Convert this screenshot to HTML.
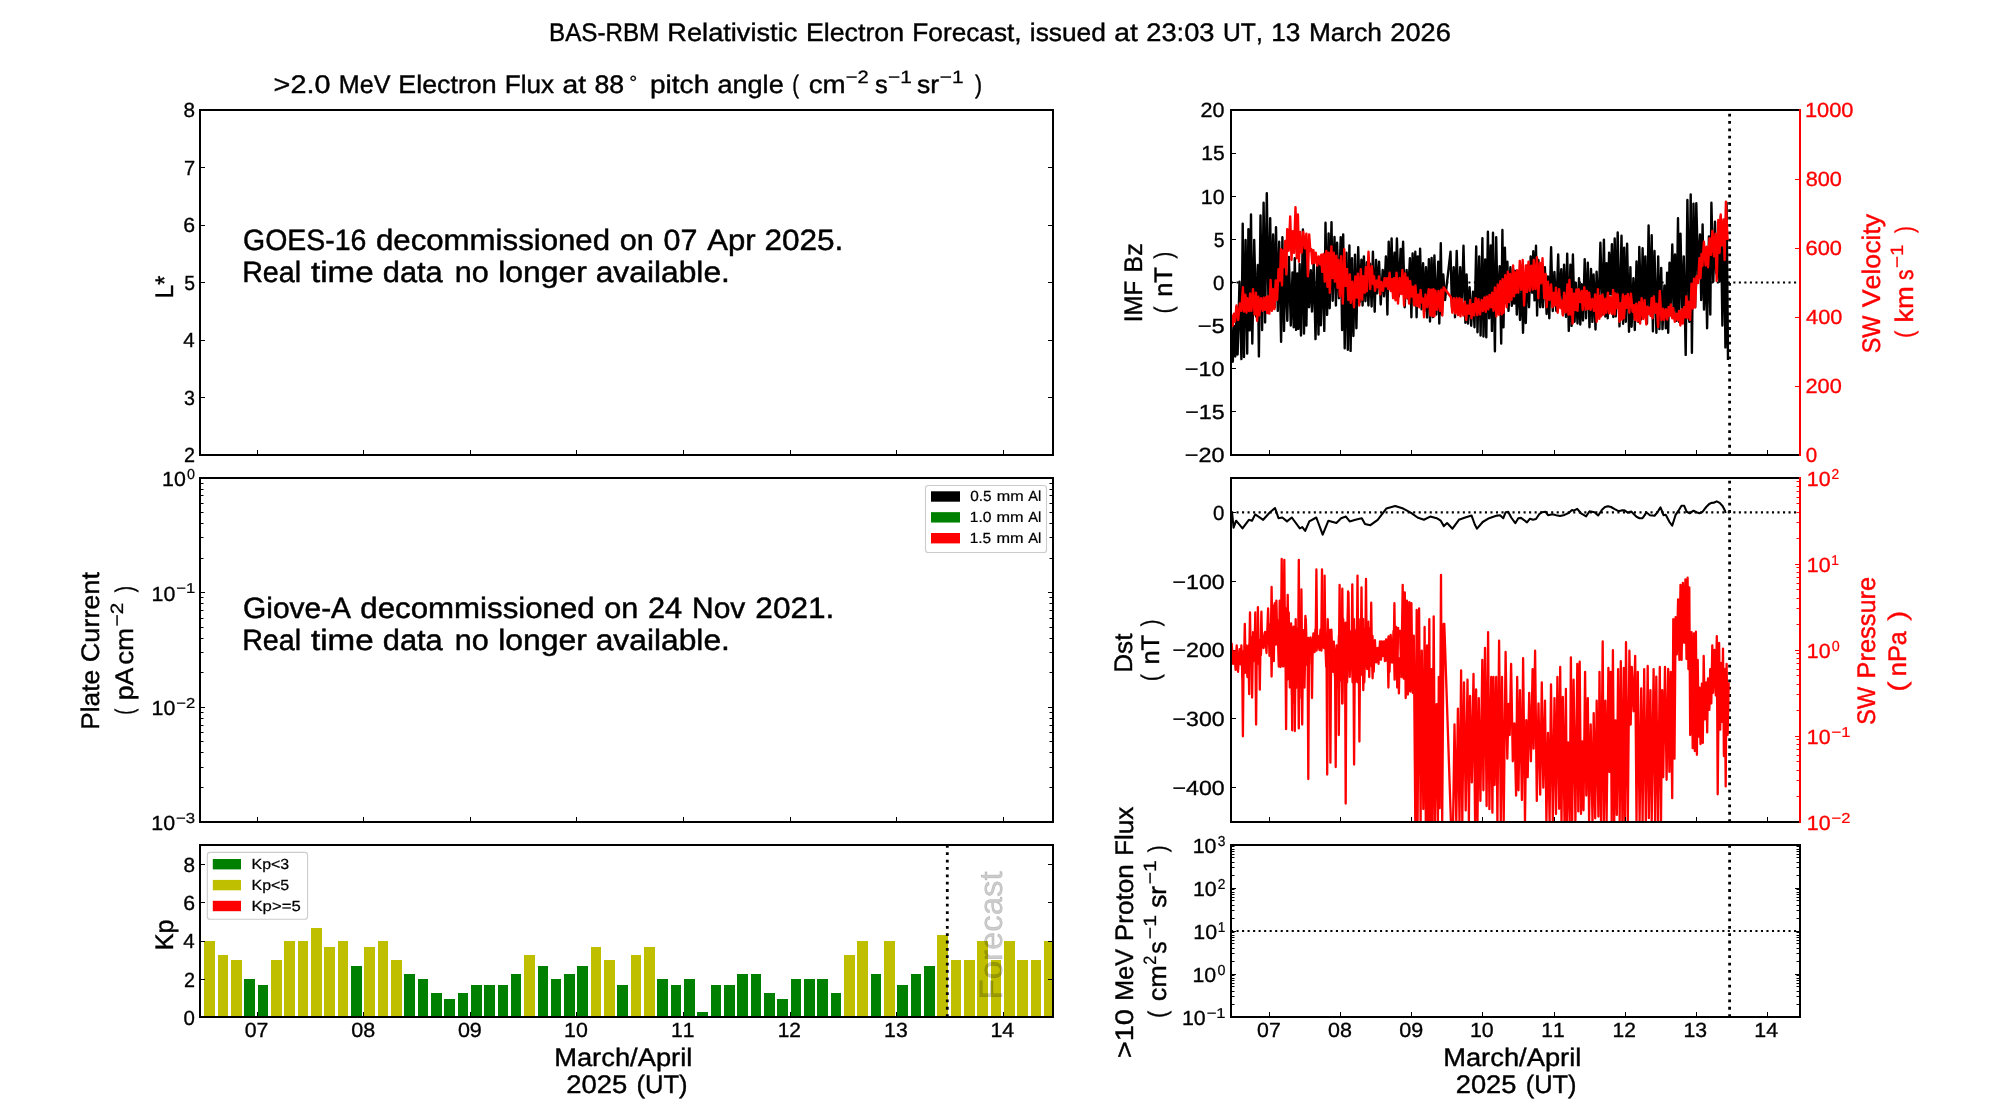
<!DOCTYPE html>
<html><head><meta charset="utf-8"><title>BAS-RBM Relativistic Electron Forecast</title>
<style>
html,body{margin:0;padding:0;background:#fff;}
body{width:2000px;height:1100px;overflow:hidden;}
svg{display:block;will-change:transform;}
text{font-family:"Liberation Sans",sans-serif;font-kerning:none;text-rendering:geometricPrecision;white-space:pre;}
</style></head><body>
<svg width="2000" height="1100" viewBox="0 0 2000 1100">
<rect x="0" y="0" width="2000" height="1100" fill="#fff"/>
<line x1="200.00" y1="109.00" x2="200.00" y2="456.00" stroke="#000" stroke-width="2.0" stroke-linecap="butt"/>
<line x1="199.00" y1="110.00" x2="1054.00" y2="110.00" stroke="#000" stroke-width="2.0" stroke-linecap="butt"/>
<line x1="199.00" y1="455.00" x2="1054.00" y2="455.00" stroke="#000" stroke-width="2.0" stroke-linecap="butt"/>
<line x1="1053.00" y1="109.00" x2="1053.00" y2="456.00" stroke="#000" stroke-width="2.0" stroke-linecap="butt"/>
<line x1="257.50" y1="455.00" x2="257.50" y2="450.00" stroke="#000" stroke-width="1.0" stroke-linecap="butt"/>
<line x1="363.50" y1="455.00" x2="363.50" y2="450.00" stroke="#000" stroke-width="1.0" stroke-linecap="butt"/>
<line x1="470.50" y1="455.00" x2="470.50" y2="450.00" stroke="#000" stroke-width="1.0" stroke-linecap="butt"/>
<line x1="576.50" y1="455.00" x2="576.50" y2="450.00" stroke="#000" stroke-width="1.0" stroke-linecap="butt"/>
<line x1="683.50" y1="455.00" x2="683.50" y2="450.00" stroke="#000" stroke-width="1.0" stroke-linecap="butt"/>
<line x1="790.50" y1="455.00" x2="790.50" y2="450.00" stroke="#000" stroke-width="1.0" stroke-linecap="butt"/>
<line x1="896.50" y1="455.00" x2="896.50" y2="450.00" stroke="#000" stroke-width="1.0" stroke-linecap="butt"/>
<line x1="1003.50" y1="455.00" x2="1003.50" y2="450.00" stroke="#000" stroke-width="1.0" stroke-linecap="butt"/>
<line x1="200.00" y1="397.50" x2="205.00" y2="397.50" stroke="#000" stroke-width="1.0" stroke-linecap="butt"/>
<line x1="200.00" y1="340.50" x2="205.00" y2="340.50" stroke="#000" stroke-width="1.0" stroke-linecap="butt"/>
<line x1="200.00" y1="282.50" x2="205.00" y2="282.50" stroke="#000" stroke-width="1.0" stroke-linecap="butt"/>
<line x1="200.00" y1="225.50" x2="205.00" y2="225.50" stroke="#000" stroke-width="1.0" stroke-linecap="butt"/>
<line x1="200.00" y1="167.50" x2="205.00" y2="167.50" stroke="#000" stroke-width="1.0" stroke-linecap="butt"/>
<line x1="1053.00" y1="397.50" x2="1048.00" y2="397.50" stroke="#000" stroke-width="1.0" stroke-linecap="butt"/>
<line x1="1053.00" y1="340.50" x2="1048.00" y2="340.50" stroke="#000" stroke-width="1.0" stroke-linecap="butt"/>
<line x1="1053.00" y1="282.50" x2="1048.00" y2="282.50" stroke="#000" stroke-width="1.0" stroke-linecap="butt"/>
<line x1="1053.00" y1="225.50" x2="1048.00" y2="225.50" stroke="#000" stroke-width="1.0" stroke-linecap="butt"/>
<line x1="1053.00" y1="167.50" x2="1048.00" y2="167.50" stroke="#000" stroke-width="1.0" stroke-linecap="butt"/>
<text transform="translate(185.10,462.30)" font-size="20.51" fill="#000" stroke="#000" stroke-width="0.33"><tspan x="-0.99" textLength="10.99" lengthAdjust="spacingAndGlyphs">2</tspan></text>
<text transform="translate(184.77,404.80)" font-size="20.51" fill="#000" stroke="#000" stroke-width="0.33"><tspan x="-0.75" textLength="10.95" lengthAdjust="spacingAndGlyphs">3</tspan></text>
<text transform="translate(183.77,347.30)" font-size="20.51" fill="#000" stroke="#000" stroke-width="0.33"><tspan x="-0.47" textLength="11.40" lengthAdjust="spacingAndGlyphs">4</tspan></text>
<text transform="translate(184.93,289.80)" font-size="20.51" fill="#000" stroke="#000" stroke-width="0.33"><tspan x="-0.77" textLength="10.76" lengthAdjust="spacingAndGlyphs">5</tspan></text>
<text transform="translate(184.31,232.30)" font-size="20.51" fill="#000" stroke="#000" stroke-width="0.33"><tspan x="-1.08" textLength="11.80" lengthAdjust="spacingAndGlyphs">6</tspan></text>
<text transform="translate(184.99,174.80)" font-size="20.51" fill="#000" stroke="#000" stroke-width="0.33"><tspan x="-1.03" textLength="11.15" lengthAdjust="spacingAndGlyphs">7</tspan></text>
<text transform="translate(184.38,117.30)" font-size="20.51" fill="#000" stroke="#000" stroke-width="0.33"><tspan x="-0.90" textLength="11.52" lengthAdjust="spacingAndGlyphs">8</tspan></text>
<text transform="translate(173.10,296.20) rotate(-90)" font-size="25.39" fill="#000" stroke="#000" stroke-width="0.41"><tspan x="-1.95" textLength="22.53" lengthAdjust="spacingAndGlyphs">L*</tspan></text>
<text transform="translate(244.50,250.00)" font-size="29.31" fill="#000" stroke="#000" stroke-width="0.47"><tspan x="-1.43" textLength="123.34" lengthAdjust="spacingAndGlyphs">GOES-16</tspan> <tspan x="131.46" textLength="234.13" lengthAdjust="spacingAndGlyphs">decommissioned</tspan> <tspan x="375.18" textLength="33.98" lengthAdjust="spacingAndGlyphs">on</tspan> <tspan x="419.02" textLength="33.87" lengthAdjust="spacingAndGlyphs">07</tspan> <tspan x="462.72" textLength="48.43" lengthAdjust="spacingAndGlyphs">Apr</tspan> <tspan x="519.91" textLength="78.98" lengthAdjust="spacingAndGlyphs">2025.</tspan></text>
<text transform="translate(244.50,282.20)" font-size="29.31" fill="#000" stroke="#000" stroke-width="0.47"><tspan x="-2.35" textLength="59.01" lengthAdjust="spacingAndGlyphs">Real</tspan> <tspan x="66.45" textLength="62.71" lengthAdjust="spacingAndGlyphs">time</tspan> <tspan x="138.27" textLength="60.00" lengthAdjust="spacingAndGlyphs">data</tspan> <tspan x="210.17" textLength="33.97" lengthAdjust="spacingAndGlyphs">no</tspan> <tspan x="253.71" textLength="88.81" lengthAdjust="spacingAndGlyphs">longer</tspan> <tspan x="351.18" textLength="134.22" lengthAdjust="spacingAndGlyphs">available.</tspan></text>
<line x1="200.00" y1="477.00" x2="200.00" y2="823.00" stroke="#000" stroke-width="2.0" stroke-linecap="butt"/>
<line x1="199.00" y1="478.00" x2="1054.00" y2="478.00" stroke="#000" stroke-width="2.0" stroke-linecap="butt"/>
<line x1="199.00" y1="822.00" x2="1054.00" y2="822.00" stroke="#000" stroke-width="2.0" stroke-linecap="butt"/>
<line x1="1053.00" y1="477.00" x2="1053.00" y2="823.00" stroke="#000" stroke-width="2.0" stroke-linecap="butt"/>
<line x1="257.50" y1="822.00" x2="257.50" y2="817.00" stroke="#000" stroke-width="1.0" stroke-linecap="butt"/>
<line x1="363.50" y1="822.00" x2="363.50" y2="817.00" stroke="#000" stroke-width="1.0" stroke-linecap="butt"/>
<line x1="470.50" y1="822.00" x2="470.50" y2="817.00" stroke="#000" stroke-width="1.0" stroke-linecap="butt"/>
<line x1="576.50" y1="822.00" x2="576.50" y2="817.00" stroke="#000" stroke-width="1.0" stroke-linecap="butt"/>
<line x1="683.50" y1="822.00" x2="683.50" y2="817.00" stroke="#000" stroke-width="1.0" stroke-linecap="butt"/>
<line x1="790.50" y1="822.00" x2="790.50" y2="817.00" stroke="#000" stroke-width="1.0" stroke-linecap="butt"/>
<line x1="896.50" y1="822.00" x2="896.50" y2="817.00" stroke="#000" stroke-width="1.0" stroke-linecap="butt"/>
<line x1="1003.50" y1="822.00" x2="1003.50" y2="817.00" stroke="#000" stroke-width="1.0" stroke-linecap="butt"/>
<line x1="200.00" y1="592.50" x2="205.00" y2="592.50" stroke="#000" stroke-width="1.0" stroke-linecap="butt"/>
<line x1="200.00" y1="707.50" x2="205.00" y2="707.50" stroke="#000" stroke-width="1.0" stroke-linecap="butt"/>
<line x1="1053.00" y1="592.50" x2="1048.00" y2="592.50" stroke="#000" stroke-width="1.0" stroke-linecap="butt"/>
<line x1="1053.00" y1="707.50" x2="1048.00" y2="707.50" stroke="#000" stroke-width="1.0" stroke-linecap="butt"/>
<line x1="200.00" y1="558.50" x2="203.50" y2="558.50" stroke="#000" stroke-width="1.0" stroke-linecap="butt"/>
<line x1="200.00" y1="537.50" x2="203.50" y2="537.50" stroke="#000" stroke-width="1.0" stroke-linecap="butt"/>
<line x1="200.00" y1="523.50" x2="203.50" y2="523.50" stroke="#000" stroke-width="1.0" stroke-linecap="butt"/>
<line x1="200.00" y1="512.50" x2="203.50" y2="512.50" stroke="#000" stroke-width="1.0" stroke-linecap="butt"/>
<line x1="200.00" y1="503.50" x2="203.50" y2="503.50" stroke="#000" stroke-width="1.0" stroke-linecap="butt"/>
<line x1="200.00" y1="495.50" x2="203.50" y2="495.50" stroke="#000" stroke-width="1.0" stroke-linecap="butt"/>
<line x1="200.00" y1="489.50" x2="203.50" y2="489.50" stroke="#000" stroke-width="1.0" stroke-linecap="butt"/>
<line x1="200.00" y1="483.50" x2="203.50" y2="483.50" stroke="#000" stroke-width="1.0" stroke-linecap="butt"/>
<line x1="200.00" y1="672.50" x2="203.50" y2="672.50" stroke="#000" stroke-width="1.0" stroke-linecap="butt"/>
<line x1="200.00" y1="652.50" x2="203.50" y2="652.50" stroke="#000" stroke-width="1.0" stroke-linecap="butt"/>
<line x1="200.00" y1="638.50" x2="203.50" y2="638.50" stroke="#000" stroke-width="1.0" stroke-linecap="butt"/>
<line x1="200.00" y1="627.50" x2="203.50" y2="627.50" stroke="#000" stroke-width="1.0" stroke-linecap="butt"/>
<line x1="200.00" y1="618.50" x2="203.50" y2="618.50" stroke="#000" stroke-width="1.0" stroke-linecap="butt"/>
<line x1="200.00" y1="610.50" x2="203.50" y2="610.50" stroke="#000" stroke-width="1.0" stroke-linecap="butt"/>
<line x1="200.00" y1="603.50" x2="203.50" y2="603.50" stroke="#000" stroke-width="1.0" stroke-linecap="butt"/>
<line x1="200.00" y1="597.50" x2="203.50" y2="597.50" stroke="#000" stroke-width="1.0" stroke-linecap="butt"/>
<line x1="200.00" y1="787.50" x2="203.50" y2="787.50" stroke="#000" stroke-width="1.0" stroke-linecap="butt"/>
<line x1="200.00" y1="767.50" x2="203.50" y2="767.50" stroke="#000" stroke-width="1.0" stroke-linecap="butt"/>
<line x1="200.00" y1="752.50" x2="203.50" y2="752.50" stroke="#000" stroke-width="1.0" stroke-linecap="butt"/>
<line x1="200.00" y1="741.50" x2="203.50" y2="741.50" stroke="#000" stroke-width="1.0" stroke-linecap="butt"/>
<line x1="200.00" y1="732.50" x2="203.50" y2="732.50" stroke="#000" stroke-width="1.0" stroke-linecap="butt"/>
<line x1="200.00" y1="725.50" x2="203.50" y2="725.50" stroke="#000" stroke-width="1.0" stroke-linecap="butt"/>
<line x1="200.00" y1="718.50" x2="203.50" y2="718.50" stroke="#000" stroke-width="1.0" stroke-linecap="butt"/>
<line x1="200.00" y1="712.50" x2="203.50" y2="712.50" stroke="#000" stroke-width="1.0" stroke-linecap="butt"/>
<line x1="1053.00" y1="558.50" x2="1049.50" y2="558.50" stroke="#000" stroke-width="1.0" stroke-linecap="butt"/>
<line x1="1053.00" y1="537.50" x2="1049.50" y2="537.50" stroke="#000" stroke-width="1.0" stroke-linecap="butt"/>
<line x1="1053.00" y1="523.50" x2="1049.50" y2="523.50" stroke="#000" stroke-width="1.0" stroke-linecap="butt"/>
<line x1="1053.00" y1="512.50" x2="1049.50" y2="512.50" stroke="#000" stroke-width="1.0" stroke-linecap="butt"/>
<line x1="1053.00" y1="503.50" x2="1049.50" y2="503.50" stroke="#000" stroke-width="1.0" stroke-linecap="butt"/>
<line x1="1053.00" y1="495.50" x2="1049.50" y2="495.50" stroke="#000" stroke-width="1.0" stroke-linecap="butt"/>
<line x1="1053.00" y1="489.50" x2="1049.50" y2="489.50" stroke="#000" stroke-width="1.0" stroke-linecap="butt"/>
<line x1="1053.00" y1="483.50" x2="1049.50" y2="483.50" stroke="#000" stroke-width="1.0" stroke-linecap="butt"/>
<line x1="1053.00" y1="672.50" x2="1049.50" y2="672.50" stroke="#000" stroke-width="1.0" stroke-linecap="butt"/>
<line x1="1053.00" y1="652.50" x2="1049.50" y2="652.50" stroke="#000" stroke-width="1.0" stroke-linecap="butt"/>
<line x1="1053.00" y1="638.50" x2="1049.50" y2="638.50" stroke="#000" stroke-width="1.0" stroke-linecap="butt"/>
<line x1="1053.00" y1="627.50" x2="1049.50" y2="627.50" stroke="#000" stroke-width="1.0" stroke-linecap="butt"/>
<line x1="1053.00" y1="618.50" x2="1049.50" y2="618.50" stroke="#000" stroke-width="1.0" stroke-linecap="butt"/>
<line x1="1053.00" y1="610.50" x2="1049.50" y2="610.50" stroke="#000" stroke-width="1.0" stroke-linecap="butt"/>
<line x1="1053.00" y1="603.50" x2="1049.50" y2="603.50" stroke="#000" stroke-width="1.0" stroke-linecap="butt"/>
<line x1="1053.00" y1="597.50" x2="1049.50" y2="597.50" stroke="#000" stroke-width="1.0" stroke-linecap="butt"/>
<line x1="1053.00" y1="787.50" x2="1049.50" y2="787.50" stroke="#000" stroke-width="1.0" stroke-linecap="butt"/>
<line x1="1053.00" y1="767.50" x2="1049.50" y2="767.50" stroke="#000" stroke-width="1.0" stroke-linecap="butt"/>
<line x1="1053.00" y1="752.50" x2="1049.50" y2="752.50" stroke="#000" stroke-width="1.0" stroke-linecap="butt"/>
<line x1="1053.00" y1="741.50" x2="1049.50" y2="741.50" stroke="#000" stroke-width="1.0" stroke-linecap="butt"/>
<line x1="1053.00" y1="732.50" x2="1049.50" y2="732.50" stroke="#000" stroke-width="1.0" stroke-linecap="butt"/>
<line x1="1053.00" y1="725.50" x2="1049.50" y2="725.50" stroke="#000" stroke-width="1.0" stroke-linecap="butt"/>
<line x1="1053.00" y1="718.50" x2="1049.50" y2="718.50" stroke="#000" stroke-width="1.0" stroke-linecap="butt"/>
<line x1="1053.00" y1="712.50" x2="1049.50" y2="712.50" stroke="#000" stroke-width="1.0" stroke-linecap="butt"/>
<text transform="translate(163.63,485.90)" font-size="20.51" fill="#000" stroke="#000" stroke-width="0.33"><tspan x="-1.63" textLength="23.77" lengthAdjust="spacingAndGlyphs">10</tspan></text>
<text transform="translate(187.54,478.70)" font-size="14.36" fill="#000" stroke="#000" stroke-width="0.23"><tspan x="-0.56" textLength="7.98" lengthAdjust="spacingAndGlyphs">0</tspan></text>
<text transform="translate(153.13,600.57)" font-size="20.51" fill="#000" stroke="#000" stroke-width="0.33"><tspan x="-1.63" textLength="23.77" lengthAdjust="spacingAndGlyphs">10</tspan></text>
<text transform="translate(177.04,593.37)" font-size="14.36" fill="#000" stroke="#000" stroke-width="0.23"><tspan x="-0.82" textLength="19.00" lengthAdjust="spacingAndGlyphs">−1</tspan></text>
<text transform="translate(153.23,715.23)" font-size="20.51" fill="#000" stroke="#000" stroke-width="0.33"><tspan x="-1.63" textLength="23.77" lengthAdjust="spacingAndGlyphs">10</tspan></text>
<text transform="translate(177.14,708.03)" font-size="14.36" fill="#000" stroke="#000" stroke-width="0.23"><tspan x="-0.82" textLength="18.91" lengthAdjust="spacingAndGlyphs">−2</tspan></text>
<text transform="translate(152.96,829.90)" font-size="20.51" fill="#000" stroke="#000" stroke-width="0.33"><tspan x="-1.63" textLength="23.77" lengthAdjust="spacingAndGlyphs">10</tspan></text>
<text transform="translate(176.87,822.70)" font-size="14.36" fill="#000" stroke="#000" stroke-width="0.23"><tspan x="-0.83" textLength="19.09" lengthAdjust="spacingAndGlyphs">−3</tspan></text>
<text transform="translate(99.30,727.60) rotate(-90)" font-size="25.39" fill="#000" stroke="#000" stroke-width="0.41"><tspan x="-2.15" textLength="59.87" lengthAdjust="spacingAndGlyphs">Plate</tspan> <tspan x="65.46" textLength="90.04" lengthAdjust="spacingAndGlyphs">Current</tspan></text>
<text transform="translate(133.00,713.60) rotate(-90)" font-size="25.39" fill="#000" stroke="#000" stroke-width="0.41"><tspan x="-1.12" textLength="6.03" lengthAdjust="spacingAndGlyphs">(</tspan></text>
<text transform="translate(133.00,698.60) rotate(-90)" font-size="25.39" fill="#000" stroke="#000" stroke-width="0.41"><tspan x="-1.72" textLength="32.67" lengthAdjust="spacingAndGlyphs">pA</tspan></text>
<text transform="translate(133.00,663.70) rotate(-90)" font-size="25.39" fill="#000" stroke="#000" stroke-width="0.41"><tspan x="-1.18" textLength="37.12" lengthAdjust="spacingAndGlyphs">cm</tspan></text>
<text transform="translate(122.50,625.20) rotate(-90)" font-size="17.78" fill="#000" stroke="#000" stroke-width="0.28"><tspan x="-1.02" textLength="23.56" lengthAdjust="spacingAndGlyphs">−2</tspan></text>
<text transform="translate(133.00,592.10) rotate(-90)" font-size="25.39" fill="#000" stroke="#000" stroke-width="0.41"><tspan x="-0.11" textLength="6.15" lengthAdjust="spacingAndGlyphs">)</tspan></text>
<text transform="translate(244.50,617.60)" font-size="29.31" fill="#000" stroke="#000" stroke-width="0.47"><tspan x="-1.50" textLength="108.09" lengthAdjust="spacingAndGlyphs">Giove-A</tspan> <tspan x="115.82" textLength="234.37" lengthAdjust="spacingAndGlyphs">decommissioned</tspan> <tspan x="359.79" textLength="34.02" lengthAdjust="spacingAndGlyphs">on</tspan> <tspan x="403.51" textLength="34.24" lengthAdjust="spacingAndGlyphs">24</tspan> <tspan x="447.53" textLength="53.28" lengthAdjust="spacingAndGlyphs">Nov</tspan> <tspan x="510.83" textLength="79.06" lengthAdjust="spacingAndGlyphs">2021.</tspan></text>
<text transform="translate(244.50,649.60)" font-size="29.31" fill="#000" stroke="#000" stroke-width="0.47"><tspan x="-2.35" textLength="59.01" lengthAdjust="spacingAndGlyphs">Real</tspan> <tspan x="66.45" textLength="62.71" lengthAdjust="spacingAndGlyphs">time</tspan> <tspan x="138.27" textLength="60.00" lengthAdjust="spacingAndGlyphs">data</tspan> <tspan x="210.17" textLength="33.97" lengthAdjust="spacingAndGlyphs">no</tspan> <tspan x="253.71" textLength="88.81" lengthAdjust="spacingAndGlyphs">longer</tspan> <tspan x="351.18" textLength="134.22" lengthAdjust="spacingAndGlyphs">available.</tspan></text>
<rect x="925.50" y="485.50" width="121.00" height="67.00" fill="#fff" stroke="#cccccc" stroke-width="1.1" rx="2.8" fill-opacity="0.8"/>
<rect x="931.00" y="491.30" width="29.00" height="10.40" fill="#000"/>
<text transform="translate(970.90,501.20)" font-size="14.65" fill="#000" stroke="#000" stroke-width="0.23"><tspan x="-0.60" textLength="21.31" lengthAdjust="spacingAndGlyphs">0.5</tspan> <tspan x="25.93" textLength="26.89" lengthAdjust="spacingAndGlyphs">mm</tspan> <tspan x="57.46" textLength="13.02" lengthAdjust="spacingAndGlyphs">Al</tspan></text>
<rect x="931.00" y="512.15" width="29.00" height="10.40" fill="#008000"/>
<text transform="translate(970.90,522.10)" font-size="14.65" fill="#000" stroke="#000" stroke-width="0.23"><tspan x="-1.19" textLength="21.72" lengthAdjust="spacingAndGlyphs">1.0</tspan> <tspan x="25.54" textLength="27.13" lengthAdjust="spacingAndGlyphs">mm</tspan> <tspan x="57.35" textLength="13.14" lengthAdjust="spacingAndGlyphs">Al</tspan></text>
<rect x="931.00" y="533.00" width="29.00" height="10.40" fill="#ff0000"/>
<text transform="translate(970.90,543.00)" font-size="14.65" fill="#000" stroke="#000" stroke-width="0.23"><tspan x="-1.18" textLength="21.45" lengthAdjust="spacingAndGlyphs">1.5</tspan> <tspan x="25.54" textLength="27.13" lengthAdjust="spacingAndGlyphs">mm</tspan> <tspan x="57.35" textLength="13.14" lengthAdjust="spacingAndGlyphs">Al</tspan></text>
<rect x="204.00" y="941.00" width="11.00" height="76.00" fill="#bfbf00"/>
<rect x="218.00" y="955.00" width="10.00" height="62.00" fill="#bfbf00"/>
<rect x="231.00" y="960.00" width="11.00" height="57.00" fill="#bfbf00"/>
<rect x="244.00" y="979.00" width="11.00" height="38.00" fill="#008000"/>
<rect x="258.00" y="985.00" width="10.00" height="32.00" fill="#008000"/>
<rect x="271.00" y="960.00" width="11.00" height="57.00" fill="#bfbf00"/>
<rect x="284.00" y="941.00" width="11.00" height="76.00" fill="#bfbf00"/>
<rect x="298.00" y="941.00" width="10.00" height="76.00" fill="#bfbf00"/>
<rect x="311.00" y="928.00" width="11.00" height="89.00" fill="#bfbf00"/>
<rect x="324.00" y="947.00" width="11.00" height="70.00" fill="#bfbf00"/>
<rect x="338.00" y="941.00" width="10.00" height="76.00" fill="#bfbf00"/>
<rect x="351.00" y="966.00" width="11.00" height="51.00" fill="#008000"/>
<rect x="364.00" y="947.00" width="11.00" height="70.00" fill="#bfbf00"/>
<rect x="378.00" y="941.00" width="10.00" height="76.00" fill="#bfbf00"/>
<rect x="391.00" y="960.00" width="11.00" height="57.00" fill="#bfbf00"/>
<rect x="404.00" y="974.00" width="11.00" height="43.00" fill="#008000"/>
<rect x="418.00" y="979.00" width="10.00" height="38.00" fill="#008000"/>
<rect x="431.00" y="993.00" width="11.00" height="24.00" fill="#008000"/>
<rect x="444.00" y="999.00" width="11.00" height="18.00" fill="#008000"/>
<rect x="458.00" y="993.00" width="10.00" height="24.00" fill="#008000"/>
<rect x="471.00" y="985.00" width="11.00" height="32.00" fill="#008000"/>
<rect x="484.00" y="985.00" width="11.00" height="32.00" fill="#008000"/>
<rect x="498.00" y="985.00" width="10.00" height="32.00" fill="#008000"/>
<rect x="511.00" y="974.00" width="10.00" height="43.00" fill="#008000"/>
<rect x="524.00" y="955.00" width="11.00" height="62.00" fill="#bfbf00"/>
<rect x="538.00" y="966.00" width="10.00" height="51.00" fill="#008000"/>
<rect x="551.00" y="979.00" width="10.00" height="38.00" fill="#008000"/>
<rect x="564.00" y="974.00" width="11.00" height="43.00" fill="#008000"/>
<rect x="577.00" y="966.00" width="11.00" height="51.00" fill="#008000"/>
<rect x="591.00" y="947.00" width="10.00" height="70.00" fill="#bfbf00"/>
<rect x="604.00" y="960.00" width="11.00" height="57.00" fill="#bfbf00"/>
<rect x="617.00" y="985.00" width="11.00" height="32.00" fill="#008000"/>
<rect x="631.00" y="955.00" width="10.00" height="62.00" fill="#bfbf00"/>
<rect x="644.00" y="947.00" width="11.00" height="70.00" fill="#bfbf00"/>
<rect x="657.00" y="979.00" width="11.00" height="38.00" fill="#008000"/>
<rect x="671.00" y="985.00" width="10.00" height="32.00" fill="#008000"/>
<rect x="684.00" y="979.00" width="11.00" height="38.00" fill="#008000"/>
<rect x="697.00" y="1012.00" width="11.00" height="5.00" fill="#008000"/>
<rect x="711.00" y="985.00" width="10.00" height="32.00" fill="#008000"/>
<rect x="724.00" y="985.00" width="11.00" height="32.00" fill="#008000"/>
<rect x="737.00" y="974.00" width="11.00" height="43.00" fill="#008000"/>
<rect x="751.00" y="974.00" width="10.00" height="43.00" fill="#008000"/>
<rect x="764.00" y="993.00" width="11.00" height="24.00" fill="#008000"/>
<rect x="777.00" y="999.00" width="11.00" height="18.00" fill="#008000"/>
<rect x="791.00" y="979.00" width="10.00" height="38.00" fill="#008000"/>
<rect x="804.00" y="979.00" width="11.00" height="38.00" fill="#008000"/>
<rect x="817.00" y="979.00" width="11.00" height="38.00" fill="#008000"/>
<rect x="831.00" y="993.00" width="10.00" height="24.00" fill="#008000"/>
<rect x="844.00" y="955.00" width="11.00" height="62.00" fill="#bfbf00"/>
<rect x="857.00" y="941.00" width="11.00" height="76.00" fill="#bfbf00"/>
<rect x="871.00" y="974.00" width="10.00" height="43.00" fill="#008000"/>
<rect x="884.00" y="941.00" width="11.00" height="76.00" fill="#bfbf00"/>
<rect x="897.00" y="985.00" width="11.00" height="32.00" fill="#008000"/>
<rect x="911.00" y="974.00" width="10.00" height="43.00" fill="#008000"/>
<rect x="924.00" y="966.00" width="11.00" height="51.00" fill="#008000"/>
<rect x="937.00" y="935.00" width="11.00" height="82.00" fill="#bfbf00"/>
<rect x="951.00" y="960.00" width="10.00" height="57.00" fill="#bfbf00"/>
<rect x="964.00" y="960.00" width="11.00" height="57.00" fill="#bfbf00"/>
<rect x="977.00" y="941.00" width="11.00" height="76.00" fill="#bfbf00"/>
<rect x="991.00" y="960.00" width="10.00" height="57.00" fill="#bfbf00"/>
<rect x="1004.00" y="941.00" width="11.00" height="76.00" fill="#bfbf00"/>
<rect x="1017.00" y="960.00" width="11.00" height="57.00" fill="#bfbf00"/>
<rect x="1031.00" y="960.00" width="10.00" height="57.00" fill="#bfbf00"/>
<rect x="1044.00" y="941.00" width="9.00" height="76.00" fill="#bfbf00"/>
<line x1="200.00" y1="844.00" x2="200.00" y2="1018.00" stroke="#000" stroke-width="2.0" stroke-linecap="butt"/>
<line x1="199.00" y1="845.00" x2="1054.00" y2="845.00" stroke="#000" stroke-width="2.0" stroke-linecap="butt"/>
<line x1="199.00" y1="1017.00" x2="1054.00" y2="1017.00" stroke="#000" stroke-width="2.0" stroke-linecap="butt"/>
<line x1="1053.00" y1="844.00" x2="1053.00" y2="1018.00" stroke="#000" stroke-width="2.0" stroke-linecap="butt"/>
<line x1="257.50" y1="1017.00" x2="257.50" y2="1012.00" stroke="#000" stroke-width="1.0" stroke-linecap="butt"/>
<line x1="363.50" y1="1017.00" x2="363.50" y2="1012.00" stroke="#000" stroke-width="1.0" stroke-linecap="butt"/>
<line x1="470.50" y1="1017.00" x2="470.50" y2="1012.00" stroke="#000" stroke-width="1.0" stroke-linecap="butt"/>
<line x1="576.50" y1="1017.00" x2="576.50" y2="1012.00" stroke="#000" stroke-width="1.0" stroke-linecap="butt"/>
<line x1="683.50" y1="1017.00" x2="683.50" y2="1012.00" stroke="#000" stroke-width="1.0" stroke-linecap="butt"/>
<line x1="790.50" y1="1017.00" x2="790.50" y2="1012.00" stroke="#000" stroke-width="1.0" stroke-linecap="butt"/>
<line x1="896.50" y1="1017.00" x2="896.50" y2="1012.00" stroke="#000" stroke-width="1.0" stroke-linecap="butt"/>
<line x1="1003.50" y1="1017.00" x2="1003.50" y2="1012.00" stroke="#000" stroke-width="1.0" stroke-linecap="butt"/>
<line x1="200.00" y1="979.50" x2="205.00" y2="979.50" stroke="#000" stroke-width="1.0" stroke-linecap="butt"/>
<line x1="200.00" y1="941.50" x2="205.00" y2="941.50" stroke="#000" stroke-width="1.0" stroke-linecap="butt"/>
<line x1="200.00" y1="902.50" x2="205.00" y2="902.50" stroke="#000" stroke-width="1.0" stroke-linecap="butt"/>
<line x1="200.00" y1="864.50" x2="205.00" y2="864.50" stroke="#000" stroke-width="1.0" stroke-linecap="butt"/>
<line x1="1053.00" y1="979.50" x2="1048.00" y2="979.50" stroke="#000" stroke-width="1.0" stroke-linecap="butt"/>
<line x1="1053.00" y1="941.50" x2="1048.00" y2="941.50" stroke="#000" stroke-width="1.0" stroke-linecap="butt"/>
<line x1="1053.00" y1="902.50" x2="1048.00" y2="902.50" stroke="#000" stroke-width="1.0" stroke-linecap="butt"/>
<line x1="1053.00" y1="864.50" x2="1048.00" y2="864.50" stroke="#000" stroke-width="1.0" stroke-linecap="butt"/>
<text transform="translate(184.30,1024.95)" font-size="20.51" fill="#000" stroke="#000" stroke-width="0.33"><tspan x="-0.80" textLength="11.40" lengthAdjust="spacingAndGlyphs">0</tspan></text>
<text transform="translate(185.10,986.71)" font-size="20.51" fill="#000" stroke="#000" stroke-width="0.33"><tspan x="-0.99" textLength="10.99" lengthAdjust="spacingAndGlyphs">2</tspan></text>
<text transform="translate(183.77,948.47)" font-size="20.51" fill="#000" stroke="#000" stroke-width="0.33"><tspan x="-0.47" textLength="11.40" lengthAdjust="spacingAndGlyphs">4</tspan></text>
<text transform="translate(184.31,910.23)" font-size="20.51" fill="#000" stroke="#000" stroke-width="0.33"><tspan x="-1.08" textLength="11.80" lengthAdjust="spacingAndGlyphs">6</tspan></text>
<text transform="translate(184.38,871.99)" font-size="20.51" fill="#000" stroke="#000" stroke-width="0.33"><tspan x="-0.90" textLength="11.52" lengthAdjust="spacingAndGlyphs">8</tspan></text>
<text transform="translate(172.80,948.30) rotate(-90)" font-size="25.39" fill="#000" stroke="#000" stroke-width="0.41"><tspan x="-2.06" textLength="30.71" lengthAdjust="spacingAndGlyphs">Kp</tspan></text>
<text transform="translate(245.60,1036.90)" font-size="20.51" fill="#000" stroke="#000" stroke-width="0.33"><tspan x="-0.83" textLength="23.70" lengthAdjust="spacingAndGlyphs">07</tspan></text>
<text transform="translate(352.06,1036.90)" font-size="20.51" fill="#000" stroke="#000" stroke-width="0.33"><tspan x="-0.84" textLength="23.90" lengthAdjust="spacingAndGlyphs">08</tspan></text>
<text transform="translate(458.71,1036.90)" font-size="20.51" fill="#000" stroke="#000" stroke-width="0.33"><tspan x="-0.84" textLength="23.95" lengthAdjust="spacingAndGlyphs">09</tspan></text>
<text transform="translate(565.72,1036.90)" font-size="20.51" fill="#000" stroke="#000" stroke-width="0.33"><tspan x="-1.63" textLength="23.77" lengthAdjust="spacingAndGlyphs">10</tspan></text>
<text transform="translate(672.60,1036.90)" font-size="20.51" fill="#000" stroke="#000" stroke-width="0.33"><tspan x="-1.61" textLength="23.44" lengthAdjust="spacingAndGlyphs">11</tspan></text>
<text transform="translate(779.30,1036.90)" font-size="20.51" fill="#000" stroke="#000" stroke-width="0.33"><tspan x="-1.60" textLength="23.30" lengthAdjust="spacingAndGlyphs">12</tspan></text>
<text transform="translate(885.73,1036.90)" font-size="20.51" fill="#000" stroke="#000" stroke-width="0.33"><tspan x="-1.62" textLength="23.59" lengthAdjust="spacingAndGlyphs">13</tspan></text>
<text transform="translate(992.12,1036.90)" font-size="20.51" fill="#000" stroke="#000" stroke-width="0.33"><tspan x="-1.63" textLength="23.76" lengthAdjust="spacingAndGlyphs">14</tspan></text>
<text transform="translate(556.40,1065.50)" font-size="25.39" fill="#000" stroke="#000" stroke-width="0.41"><tspan x="-2.24" textLength="138.17" lengthAdjust="spacingAndGlyphs">March/April</tspan></text>
<text transform="translate(567.50,1093.40)" font-size="25.39" fill="#000" stroke="#000" stroke-width="0.41"><tspan x="-1.38" textLength="61.07" lengthAdjust="spacingAndGlyphs">2025</tspan> <tspan x="69.01" textLength="51.07" lengthAdjust="spacingAndGlyphs">(UT)</tspan></text>
<rect x="207.30" y="852.40" width="100.30" height="66.80" fill="#fff" stroke="#cccccc" stroke-width="1.1" rx="2.8" fill-opacity="0.8"/>
<rect x="212.80" y="859.00" width="28.20" height="10.40" fill="#008000"/>
<text transform="translate(252.80,869.10)" font-size="14.65" fill="#000" stroke="#000" stroke-width="0.23"><tspan x="-1.31" textLength="37.71" lengthAdjust="spacingAndGlyphs">Kp&lt;3</tspan></text>
<rect x="212.80" y="879.90" width="28.20" height="10.40" fill="#bfbf00"/>
<text transform="translate(252.80,890.00)" font-size="14.65" fill="#000" stroke="#000" stroke-width="0.23"><tspan x="-1.31" textLength="37.68" lengthAdjust="spacingAndGlyphs">Kp&lt;5</tspan></text>
<rect x="212.80" y="900.80" width="28.20" height="10.40" fill="#ff0000"/>
<text transform="translate(252.80,910.90)" font-size="14.65" fill="#000" stroke="#000" stroke-width="0.23"><tspan x="-1.37" textLength="49.27" lengthAdjust="spacingAndGlyphs">Kp&gt;=5</tspan></text>
<line x1="947.30" y1="1017.00" x2="947.30" y2="845.00" stroke="#000" stroke-width="2.78" stroke-dasharray="2.78 4.58" stroke-linecap="butt"/>
<text transform="translate(1002.30,996.80) rotate(-90)" font-size="32.24" fill="#000" stroke="#000" stroke-width="0.52" fill-opacity="0.2" stroke-opacity="0.2"><tspan x="-2.70" textLength="128.14" lengthAdjust="spacingAndGlyphs">Forecast</tspan></text>
<line x1="1231.00" y1="411.50" x2="1236.00" y2="411.50" stroke="#000" stroke-width="1.0" stroke-linecap="butt"/>
<line x1="1231.00" y1="368.50" x2="1236.00" y2="368.50" stroke="#000" stroke-width="1.0" stroke-linecap="butt"/>
<line x1="1231.00" y1="325.50" x2="1236.00" y2="325.50" stroke="#000" stroke-width="1.0" stroke-linecap="butt"/>
<line x1="1231.00" y1="282.50" x2="1236.00" y2="282.50" stroke="#000" stroke-width="1.0" stroke-linecap="butt"/>
<line x1="1231.00" y1="239.50" x2="1236.00" y2="239.50" stroke="#000" stroke-width="1.0" stroke-linecap="butt"/>
<line x1="1231.00" y1="196.50" x2="1236.00" y2="196.50" stroke="#000" stroke-width="1.0" stroke-linecap="butt"/>
<line x1="1231.00" y1="153.50" x2="1236.00" y2="153.50" stroke="#000" stroke-width="1.0" stroke-linecap="butt"/>
<line x1="1231.00" y1="282.50" x2="1800.00" y2="282.50" stroke="#000" stroke-width="2.08" stroke-dasharray="2.08 3.44" stroke-linecap="butt"/>
<path d="M1231.2,318.2 L1232.8,361.8 L1234.2,326.6 L1235.3,356.5 L1236.4,307.3 L1237.6,354.5 L1239.5,281.8 L1241.4,359.1 L1242.7,223.6 L1244.0,357.0 L1245.6,240.0 L1247.2,353.6 L1248.4,229.1 L1249.7,330.4 L1251.0,214.5 L1252.3,343.6 L1254.2,240.0 L1256.1,316.5 L1257.8,265.0 L1258.9,356.4 L1260.5,215.5 L1262.1,330.0 L1263.6,202.7 L1265.1,322.4 L1266.8,193.1 L1268.6,312.7 L1270.2,218.2 L1271.4,310.0 L1273.1,234.5 L1274.6,307.3 L1276.0,227.3 L1277.8,310.9 L1279.2,241.8 L1281.1,341.8 L1282.4,237.3 L1284.0,330.9 L1285.4,256.4 L1287.3,320.8 L1288.9,256.9 L1290.8,325.5 L1292.5,272.4 L1293.7,327.3 L1294.8,258.2 L1296.1,329.9 L1297.3,273.4 L1298.4,328.9 L1299.6,263.9 L1301.0,335.5 L1302.9,229.5 L1304.0,333.6 L1305.3,245.1 L1306.4,325.6 L1307.6,252.7 L1309.1,307.3 L1310.8,270.3 L1312.0,311.5 L1313.7,259.6 L1315.5,339.1 L1317.3,261.8 L1318.5,334.5 L1319.6,259.0 L1320.9,325.3 L1322.4,256.4 L1324.3,330.9 L1325.5,222.7 L1327.1,314.9 L1328.6,233.4 L1329.7,308.2 L1331.5,222.2 L1332.7,300.8 L1334.5,236.9 L1335.9,305.5 L1337.1,242.7 L1338.9,298.2 L1340.7,237.1 L1342.1,330.0 L1343.2,234.5 L1344.7,348.2 L1346.5,252.7 L1347.8,349.8 L1349.4,245.5 L1350.6,350.9 L1352.0,258.2 L1353.4,336.1 L1355.0,254.6 L1356.4,328.2 L1358.2,247.3 L1359.9,301.9 L1361.4,259.7 L1362.6,305.5 L1363.9,256.4 L1365.4,301.3 L1366.9,262.2 L1368.4,305.5 L1369.9,263.6 L1371.6,306.5 L1372.9,251.8 L1374.7,311.8 L1376.1,260.0 L1377.2,293.4 L1379.1,261.8 L1380.7,304.5 L1382.7,270.0 L1384.1,296.4 L1385.9,256.4 L1387.4,314.5 L1388.7,241.8 L1390.3,289.1 L1391.6,238.5 L1392.7,290.2 L1394.6,252.7 L1395.7,293.5 L1396.9,238.5 L1398.7,296.4 L1400.6,249.0 L1401.7,281.5 L1403.1,241.8 L1404.7,307.3 L1406.6,269.9 L1408.0,298.6 L1409.9,258.2 L1411.4,317.3 L1412.6,253.5 L1414.0,301.4 L1415.3,251.8 L1416.6,317.3 L1417.7,256.4 L1418.9,304.5 L1420.1,248.7 L1421.6,309.2 L1423.1,263.2 L1424.4,310.9 L1426.0,267.3 L1427.1,317.5 L1428.9,259.1 L1430.0,321.5 L1431.6,257.9 L1432.9,317.1 L1434.4,255.5 L1436.3,314.5 L1438.2,261.8 L1439.3,323.6 L1440.8,243.3 L1441.9,314.5 L1443.3,274.5 L1445.0,300.0 L1450.5,251.8 L1450.5,251.8 L1452.0,307.3 L1453.7,267.3 L1455.0,317.3 L1456.7,250.9 L1458.5,312.7 L1460.2,267.3 L1461.8,307.1 L1463.5,245.8 L1465.4,322.7 L1466.6,274.5 L1468.0,323.6 L1469.6,287.3 L1471.2,325.7 L1473.0,291.8 L1474.5,327.3 L1476.2,246.4 L1477.5,332.2 L1479.2,256.4 L1480.6,335.5 L1482.4,238.2 L1483.5,336.5 L1485.2,259.4 L1486.3,337.3 L1487.9,231.8 L1489.2,318.2 L1490.7,245.5 L1491.9,330.9 L1493.0,232.7 L1494.9,351.3 L1496.2,237.3 L1497.7,313.0 L1499.7,266.3 L1501.2,343.6 L1502.4,230.0 L1503.5,327.3 L1504.9,247.6 L1506.3,303.0 L1507.4,261.7 L1508.5,310.9 L1510.4,267.3 L1511.8,305.9 L1513.2,269.1 L1514.2,303.6 L1515.6,270.9 L1516.8,314.6 L1518.2,272.3 L1520.0,320.0 L1521.9,282.0 L1523.0,332.7 L1524.7,274.5 L1525.8,323.0 L1527.3,265.4 L1529.0,307.3 L1530.7,256.4 L1532.1,292.7 L1533.3,251.3 L1534.5,300.4 L1536.0,245.8 L1537.1,315.5 L1538.4,260.0 L1540.2,307.2 L1541.7,270.6 L1543.0,307.3 L1544.9,267.3 L1546.6,314.0 L1547.9,276.4 L1549.3,318.2 L1551.1,247.3 L1552.8,311.0 L1554.4,272.0 L1556.3,310.9 L1558.2,254.5 L1559.4,304.7 L1561.3,269.1 L1563.0,314.5 L1564.1,264.6 L1566.0,316.9 L1567.2,253.6 L1568.8,330.9 L1570.4,264.8 L1571.6,325.9 L1572.9,254.5 L1574.6,321.8 L1575.8,282.7 L1577.5,323.5 L1579.0,278.2 L1580.3,324.5 L1581.6,284.2 L1583.0,320.5 L1584.7,259.1 L1586.0,318.2 L1587.8,262.7 L1589.5,327.3 L1591.0,268.9 L1592.4,321.9 L1593.6,274.5 L1595.5,329.5 L1596.6,271.8 L1598.5,314.4 L1600.4,242.7 L1602.3,314.5 L1603.9,239.6 L1605.3,316.5 L1606.6,263.2 L1607.7,318.2 L1609.1,252.7 L1610.5,294.4 L1611.9,244.2 L1613.3,317.0 L1614.7,238.5 L1615.8,316.4 L1617.7,232.4 L1619.5,326.4 L1621.5,235.7 L1623.1,323.7 L1624.2,247.6 L1625.8,321.8 L1627.1,243.6 L1629.0,331.8 L1630.4,267.3 L1631.6,326.7 L1633.4,278.2 L1634.8,330.0 L1636.5,261.4 L1638.3,321.8 L1639.3,246.9 L1641.3,319.2 L1642.6,248.2 L1644.1,315.6 L1645.3,256.4 L1647.0,323.6 L1648.6,225.5 L1649.9,311.8 L1651.7,235.3 L1652.9,331.3 L1654.5,250.9 L1656.4,332.7 L1658.2,256.4 L1659.4,329.1 L1661.2,267.9 L1662.5,329.1 L1664.4,285.5 L1665.8,328.4 L1667.1,272.7 L1668.2,332.7 L1669.5,262.8 L1670.7,306.0 L1672.3,244.5 L1673.7,318.2 L1675.0,254.4 L1676.6,320.7 L1678.0,218.2 L1679.1,321.8 L1680.5,233.6 L1682.4,319.0 L1683.8,256.4 L1685.7,354.9 L1687.4,200.0 L1689.3,321.8 L1690.7,194.5 L1691.9,352.7 L1693.5,203.6 L1695.2,307.3 L1696.3,203.3 L1698.2,276.6 L1700.0,234.5 L1701.2,300.0 L1702.6,224.5 L1704.0,309.6 L1705.8,258.0 L1707.1,328.2 L1708.9,236.4 L1710.3,314.5 L1711.4,202.7 L1713.3,281.8 L1715.0,221.8 L1716.2,273.3 L1717.8,235.3 L1719.4,281.8 L1720.8,216.4 L1722.4,325.5 L1724.2,220.2 L1725.4,347.4 L1726.6,202.7 L1728.0,360.0" fill="none" stroke="#000" stroke-width="2.4" stroke-linejoin="round" stroke-linecap="butt"/>
<line x1="1729.60" y1="455.00" x2="1729.60" y2="110.00" stroke="#000" stroke-width="2.78" stroke-dasharray="2.78 4.58" stroke-linecap="butt"/>
<path d="M1231.2,314.5 L1232.7,325.5 L1234.0,313.7 L1235.0,321.5 L1236.5,305.5 L1238.2,320.0 L1239.8,303.4 L1241.4,310.9 L1242.9,287.3 L1244.1,311.6 L1245.4,294.7 L1246.5,312.7 L1247.4,298.2 L1249.1,311.0 L1250.1,293.5 L1251.4,310.8 L1253.0,289.1 L1254.6,314.5 L1256.0,292.7 L1257.1,320.9 L1258.3,296.7 L1259.4,315.3 L1260.9,298.2 L1262.6,310.9 L1263.7,297.6 L1264.8,309.9 L1266.1,297.0 L1267.2,313.1 L1268.1,296.4 L1269.3,313.6 L1270.6,280.0 L1271.9,310.9 L1273.0,289.1 L1274.4,309.1 L1275.7,280.5 L1277.1,300.0 L1278.5,269.1 L1280.0,280.8 L1280.9,249.1 L1282.0,285.5 L1282.9,250.4 L1283.9,267.3 L1285.2,241.0 L1286.3,274.5 L1287.2,229.1 L1288.7,250.7 L1290.2,216.4 L1291.5,260.0 L1292.6,231.3 L1294.0,252.9 L1295.5,207.3 L1296.8,258.2 L1297.9,214.5 L1299.0,261.8 L1300.1,231.9 L1301.7,252.7 L1303.3,231.8 L1304.9,248.4 L1306.4,233.6 L1307.9,276.4 L1309.2,234.5 L1310.3,250.9 L1311.3,249.1 L1312.2,263.6 L1313.4,250.2 L1314.4,263.0 L1315.8,252.7 L1317.2,265.5 L1318.7,256.4 L1320.3,264.5 L1321.3,254.6 L1322.2,271.9 L1323.6,254.0 L1324.8,281.8 L1326.3,250.9 L1327.5,286.9 L1328.7,252.6 L1329.8,292.7 L1331.4,246.4 L1332.6,278.1 L1333.8,252.7 L1334.9,281.8 L1336.4,255.8 L1337.5,287.7 L1338.4,260.0 L1339.9,296.4 L1341.1,256.2 L1342.8,303.6 L1344.2,249.1 L1345.6,286.0 L1347.1,268.9 L1348.3,300.0 L1349.9,274.5 L1350.8,302.9 L1352.4,281.6 L1354.0,307.3 L1355.3,276.4 L1356.8,297.6 L1357.8,273.6 L1359.3,305.5 L1360.8,269.1 L1362.1,299.6 L1363.1,276.1 L1364.7,292.7 L1365.8,267.3 L1366.8,291.3 L1368.5,251.8 L1370.2,289.1 L1371.8,266.3 L1373.1,284.2 L1374.1,276.4 L1375.0,290.9 L1376.5,280.7 L1377.7,287.3 L1379.0,276.4 L1380.2,294.5 L1381.4,282.0 L1383.0,290.9 L1384.6,278.2 L1385.9,286.3 L1386.9,278.3 L1388.3,289.1 L1389.6,272.7 L1390.8,291.1 L1391.9,279.2 L1393.1,298.2 L1394.0,278.2 L1395.5,300.4 L1396.5,272.7 L1398.0,303.6 L1399.5,278.0 L1401.2,294.1 L1402.4,270.0 L1404.1,305.5 L1405.2,273.5 L1406.4,297.8 L1407.6,277.6 L1409.1,303.6 L1410.2,280.9 L1411.3,296.6 L1412.8,286.7 L1414.2,305.5 L1415.4,285.5 L1416.9,306.1 L1418.2,294.6 L1419.4,307.3 L1420.6,290.0 L1421.7,302.5 L1422.8,298.4 L1424.1,317.3 L1425.5,294.5 L1427.1,307.2 L1428.7,289.1 L1430.3,315.5 L1431.2,289.6 L1432.3,316.0 L1433.4,289.1 L1434.4,316.4 L1435.5,290.7 L1437.0,309.9 L1438.5,290.9 L1440.0,310.9 L1441.2,289.8 L1442.3,315.5 L1443.6,287.3 L1451.0,297.3 L1452.3,312.7 L1453.9,298.2 L1455.3,313.6 L1456.6,298.2 L1458.0,315.1 L1459.4,298.2 L1460.5,316.4 L1461.8,299.1 L1463.3,315.5 L1464.9,301.8 L1466.2,320.0 L1467.4,305.5 L1469.0,313.8 L1470.2,300.0 L1471.5,318.2 L1473.0,303.9 L1474.2,315.5 L1475.7,298.2 L1477.3,315.1 L1478.5,299.3 L1480.1,314.5 L1481.6,300.0 L1483.0,311.0 L1484.4,297.4 L1485.8,311.8 L1486.8,296.4 L1488.3,309.3 L1489.5,295.0 L1490.9,307.3 L1492.1,292.7 L1493.5,310.8 L1494.9,287.5 L1496.4,316.4 L1497.7,284.5 L1499.0,314.8 L1500.3,281.1 L1501.7,314.5 L1502.6,279.1 L1503.6,312.7 L1505.2,275.1 L1506.7,307.3 L1507.8,271.8 L1509.2,302.3 L1510.2,273.9 L1511.5,299.8 L1513.1,265.5 L1514.1,296.4 L1515.0,272.5 L1516.1,292.7 L1517.0,270.2 L1518.3,292.7 L1519.8,260.9 L1521.2,289.8 L1522.7,260.0 L1524.1,305.5 L1525.8,265.4 L1526.9,292.1 L1528.5,261.8 L1529.7,290.9 L1531.2,265.8 L1532.7,289.6 L1533.8,260.0 L1535.4,289.1 L1536.9,257.3 L1538.3,298.2 L1539.8,262.7 L1541.0,283.4 L1542.5,258.2 L1544.2,298.2 L1545.6,274.0 L1546.7,307.3 L1548.0,281.8 L1549.5,299.9 L1551.1,284.5 L1552.4,307.3 L1553.5,293.0 L1554.7,305.6 L1556.0,287.6 L1557.7,312.7 L1559.1,289.1 L1560.4,308.0 L1561.4,300.4 L1562.9,315.5 L1564.1,292.7 L1565.7,312.5 L1567.4,284.4 L1568.4,314.7 L1569.4,280.0 L1570.7,314.5 L1571.6,289.1 L1572.6,323.6 L1574.0,293.6 L1575.4,310.0 L1576.4,289.4 L1577.5,310.9 L1578.7,289.1 L1580.3,302.0 L1581.7,290.9 L1582.7,310.0 L1584.3,287.3 L1585.7,309.6 L1586.9,290.9 L1588.1,309.1 L1589.2,292.7 L1590.6,309.8 L1592.3,299.0 L1593.9,310.9 L1595.1,294.5 L1596.7,321.8 L1597.9,289.1 L1599.3,318.9 L1600.2,296.0 L1601.2,316.4 L1602.5,294.5 L1604.0,314.6 L1605.3,298.8 L1606.3,312.7 L1607.9,292.7 L1609.2,313.3 L1610.3,297.1 L1612.0,314.0 L1613.1,290.0 L1614.6,314.5 L1615.5,293.4 L1616.5,308.1 L1617.8,294.5 L1619.5,321.8 L1620.5,303.1 L1621.9,319.6 L1622.9,294.5 L1624.0,318.2 L1625.5,296.0 L1626.6,307.9 L1627.8,294.0 L1629.3,312.7 L1630.9,293.6 L1632.6,311.7 L1633.7,305.2 L1634.9,320.0 L1636.2,303.6 L1637.5,321.1 L1639.0,302.2 L1640.1,323.6 L1641.6,298.2 L1643.3,319.0 L1644.6,300.0 L1646.3,324.5 L1647.3,306.7 L1648.2,314.0 L1649.3,307.8 L1650.6,315.8 L1651.6,298.2 L1652.5,318.2 L1653.8,296.4 L1655.1,312.8 L1656.7,303.8 L1658.1,327.3 L1659.8,290.9 L1661.4,320.0 L1663.0,308.6 L1664.1,320.0 L1665.8,309.1 L1667.3,319.5 L1668.6,307.0 L1669.7,315.8 L1670.9,304.5 L1672.2,318.2 L1673.2,308.1 L1674.8,321.8 L1676.4,313.6 L1677.8,320.3 L1679.0,310.9 L1680.4,325.5 L1681.6,309.3 L1682.8,323.6 L1684.1,307.3 L1685.3,317.2 L1686.3,296.4 L1687.4,318.2 L1688.5,301.8 L1690.1,320.0 L1691.5,283.6 L1692.8,308.6 L1694.0,278.6 L1695.1,307.3 L1696.5,276.4 L1698.1,283.0 L1699.4,258.2 L1700.5,278.2 L1701.5,254.0 L1702.4,266.0 L1703.9,241.8 L1705.6,265.5 L1706.7,246.6 L1708.1,267.3 L1709.5,238.2 L1711.0,255.0 L1712.4,230.9 L1714.0,256.4 L1715.4,233.8 L1716.7,280.9 L1718.3,220.0 L1719.6,253.0 L1720.7,214.5 L1721.9,245.5 L1723.5,219.4 L1724.6,260.0 L1725.9,201.8 L1727.5,240.0" fill="none" stroke="#ff0000" stroke-width="2.4" stroke-linejoin="round" stroke-linecap="butt"/>
<line x1="1231.00" y1="109.00" x2="1231.00" y2="456.00" stroke="#000" stroke-width="2.0" stroke-linecap="butt"/>
<line x1="1230.00" y1="110.00" x2="1801.00" y2="110.00" stroke="#000" stroke-width="2.0" stroke-linecap="butt"/>
<line x1="1230.00" y1="455.00" x2="1801.00" y2="455.00" stroke="#000" stroke-width="2.0" stroke-linecap="butt"/>
<line x1="1800.00" y1="109.00" x2="1800.00" y2="456.00" stroke="#ff0000" stroke-width="2.0" stroke-linecap="butt"/>
<line x1="1269.50" y1="455.00" x2="1269.50" y2="450.00" stroke="#000" stroke-width="1.0" stroke-linecap="butt"/>
<line x1="1340.50" y1="455.00" x2="1340.50" y2="450.00" stroke="#000" stroke-width="1.0" stroke-linecap="butt"/>
<line x1="1411.50" y1="455.00" x2="1411.50" y2="450.00" stroke="#000" stroke-width="1.0" stroke-linecap="butt"/>
<line x1="1482.50" y1="455.00" x2="1482.50" y2="450.00" stroke="#000" stroke-width="1.0" stroke-linecap="butt"/>
<line x1="1554.50" y1="455.00" x2="1554.50" y2="450.00" stroke="#000" stroke-width="1.0" stroke-linecap="butt"/>
<line x1="1625.50" y1="455.00" x2="1625.50" y2="450.00" stroke="#000" stroke-width="1.0" stroke-linecap="butt"/>
<line x1="1696.50" y1="455.00" x2="1696.50" y2="450.00" stroke="#000" stroke-width="1.0" stroke-linecap="butt"/>
<line x1="1767.50" y1="455.00" x2="1767.50" y2="450.00" stroke="#000" stroke-width="1.0" stroke-linecap="butt"/>
<text transform="translate(1186.03,462.30)" font-size="20.51" fill="#000" stroke="#000" stroke-width="0.33"><tspan x="-1.16" textLength="39.75" lengthAdjust="spacingAndGlyphs">−20</tspan></text>
<text transform="translate(1186.43,419.18)" font-size="20.51" fill="#000" stroke="#000" stroke-width="0.33"><tspan x="-1.15" textLength="39.39" lengthAdjust="spacingAndGlyphs">−15</tspan></text>
<text transform="translate(1186.03,376.05)" font-size="20.51" fill="#000" stroke="#000" stroke-width="0.33"><tspan x="-1.16" textLength="39.75" lengthAdjust="spacingAndGlyphs">−10</tspan></text>
<text transform="translate(1198.80,332.93)" font-size="20.51" fill="#000" stroke="#000" stroke-width="0.33"><tspan x="-1.17" textLength="27.07" lengthAdjust="spacingAndGlyphs">−5</tspan></text>
<text transform="translate(1213.90,289.80)" font-size="20.51" fill="#000" stroke="#000" stroke-width="0.33"><tspan x="-0.80" textLength="11.40" lengthAdjust="spacingAndGlyphs">0</tspan></text>
<text transform="translate(1214.53,246.68)" font-size="20.51" fill="#000" stroke="#000" stroke-width="0.33"><tspan x="-0.77" textLength="10.76" lengthAdjust="spacingAndGlyphs">5</tspan></text>
<text transform="translate(1202.39,203.55)" font-size="20.51" fill="#000" stroke="#000" stroke-width="0.33"><tspan x="-1.63" textLength="23.77" lengthAdjust="spacingAndGlyphs">10</tspan></text>
<text transform="translate(1202.80,160.43)" font-size="20.51" fill="#000" stroke="#000" stroke-width="0.33"><tspan x="-1.60" textLength="23.39" lengthAdjust="spacingAndGlyphs">15</tspan></text>
<text transform="translate(1201.68,117.30)" font-size="20.51" fill="#000" stroke="#000" stroke-width="0.33"><tspan x="-1.08" textLength="23.95" lengthAdjust="spacingAndGlyphs">20</tspan></text>
<line x1="1800.00" y1="386.50" x2="1795.00" y2="386.50" stroke="#ff0000" stroke-width="1.0" stroke-linecap="butt"/>
<line x1="1800.00" y1="317.50" x2="1795.00" y2="317.50" stroke="#ff0000" stroke-width="1.0" stroke-linecap="butt"/>
<line x1="1800.00" y1="248.50" x2="1795.00" y2="248.50" stroke="#ff0000" stroke-width="1.0" stroke-linecap="butt"/>
<line x1="1800.00" y1="179.50" x2="1795.00" y2="179.50" stroke="#ff0000" stroke-width="1.0" stroke-linecap="butt"/>
<text transform="translate(1806.60,462.30)" font-size="20.51" fill="#ff0000" stroke="#ff0000" stroke-width="0.33"><tspan x="-0.80" textLength="11.40" lengthAdjust="spacingAndGlyphs">0</tspan></text>
<text transform="translate(1806.60,393.30)" font-size="20.51" fill="#ff0000" stroke="#ff0000" stroke-width="0.33"><tspan x="-1.10" textLength="36.34" lengthAdjust="spacingAndGlyphs">200</tspan></text>
<text transform="translate(1806.60,324.30)" font-size="20.51" fill="#ff0000" stroke="#ff0000" stroke-width="0.33"><tspan x="-0.50" textLength="36.21" lengthAdjust="spacingAndGlyphs">400</tspan></text>
<text transform="translate(1806.60,255.30)" font-size="20.51" fill="#ff0000" stroke="#ff0000" stroke-width="0.33"><tspan x="-1.11" textLength="36.42" lengthAdjust="spacingAndGlyphs">600</tspan></text>
<text transform="translate(1806.60,186.30)" font-size="20.51" fill="#ff0000" stroke="#ff0000" stroke-width="0.33"><tspan x="-0.95" textLength="36.29" lengthAdjust="spacingAndGlyphs">800</tspan></text>
<text transform="translate(1806.60,117.30)" font-size="20.51" fill="#ff0000" stroke="#ff0000" stroke-width="0.33"><tspan x="-1.66" textLength="48.56" lengthAdjust="spacingAndGlyphs">1000</tspan></text>
<text transform="translate(1142.20,320.00) rotate(-90)" font-size="25.39" fill="#000" stroke="#000" stroke-width="0.41"><tspan x="-2.21" textLength="41.32" lengthAdjust="spacingAndGlyphs">IMF</tspan> <tspan x="47.57" textLength="29.18" lengthAdjust="spacingAndGlyphs">Bz</tspan></text>
<text transform="translate(1172.00,312.00) rotate(-90)" font-size="25.39" fill="#000" stroke="#000" stroke-width="0.41"><tspan x="-1.24" textLength="6.67" lengthAdjust="spacingAndGlyphs">(</tspan> <tspan x="15.21" textLength="29.70" lengthAdjust="spacingAndGlyphs">nT</tspan> <tspan x="53.57" textLength="6.67" lengthAdjust="spacingAndGlyphs">)</tspan></text>
<text transform="translate(1880.10,352.20) rotate(-90)" font-size="25.39" fill="#ff0000" stroke="#ff0000" stroke-width="0.41"><tspan x="-1.06" textLength="37.70" lengthAdjust="spacingAndGlyphs">SW</tspan> <tspan x="45.03" textLength="93.32" lengthAdjust="spacingAndGlyphs">Velocity</tspan></text>
<text transform="translate(1912.90,336.40) rotate(-90)" font-size="25.39" fill="#ff0000" stroke="#ff0000" stroke-width="0.41"><tspan x="-1.29" textLength="6.91" lengthAdjust="spacingAndGlyphs">(</tspan></text>
<text transform="translate(1912.90,320.70) rotate(-90)" font-size="25.39" fill="#ff0000" stroke="#ff0000" stroke-width="0.41"><tspan x="-1.84" textLength="36.33" lengthAdjust="spacingAndGlyphs">km</tspan></text>
<text transform="translate(1912.90,279.40) rotate(-90)" font-size="25.39" fill="#ff0000" stroke="#ff0000" stroke-width="0.41"><tspan x="-0.59" textLength="10.55" lengthAdjust="spacingAndGlyphs">s</tspan></text>
<text transform="translate(1902.90,267.10) rotate(-90)" font-size="17.78" fill="#ff0000" stroke="#ff0000" stroke-width="0.28"><tspan x="-1.01" textLength="23.42" lengthAdjust="spacingAndGlyphs">−1</tspan></text>
<text transform="translate(1912.90,232.80) rotate(-90)" font-size="25.39" fill="#ff0000" stroke="#ff0000" stroke-width="0.41"><tspan x="-0.12" textLength="6.91" lengthAdjust="spacingAndGlyphs">)</tspan></text>
<line x1="1231.00" y1="512.50" x2="1236.00" y2="512.50" stroke="#000" stroke-width="1.0" stroke-linecap="butt"/>
<line x1="1231.00" y1="581.50" x2="1236.00" y2="581.50" stroke="#000" stroke-width="1.0" stroke-linecap="butt"/>
<line x1="1231.00" y1="650.50" x2="1236.00" y2="650.50" stroke="#000" stroke-width="1.0" stroke-linecap="butt"/>
<line x1="1231.00" y1="718.50" x2="1236.00" y2="718.50" stroke="#000" stroke-width="1.0" stroke-linecap="butt"/>
<line x1="1231.00" y1="787.50" x2="1236.00" y2="787.50" stroke="#000" stroke-width="1.0" stroke-linecap="butt"/>
<line x1="1231.00" y1="512.40" x2="1800.00" y2="512.40" stroke="#000" stroke-width="2.08" stroke-dasharray="2.08 3.44" stroke-linecap="butt"/>
<path d="M1232.0,511.8 L1233.6,527.7 L1236.1,520.7 L1242.5,528.4 L1248.9,519.8 L1252.0,520.7 L1255.2,514.4 L1263.2,519.8 L1269.5,512.8 L1275.0,508.0 L1278.5,518.2 L1282.3,517.5 L1287.0,521.4 L1291.8,517.5 L1299.8,528.4 L1302.3,527.1 L1305.2,530.9 L1309.3,521.4 L1316.3,517.5 L1322.7,534.7 L1328.4,520.7 L1336.4,523.0 L1341.1,518.2 L1345.9,516.6 L1349.7,521.4 L1355.4,519.8 L1361.8,518.2 L1365.0,523.9 L1370.4,525.2 L1377.7,519.8 L1386.3,508.6 L1395.2,506.1 L1403.2,508.6 L1411.1,512.8 L1417.5,517.5 L1423.9,519.8 L1430.2,516.6 L1436.6,518.2 L1440.7,520.7 L1443.9,526.1 L1447.1,523.0 L1452.5,528.7 L1458.9,519.8 L1465.2,517.5 L1471.6,515.6 L1474.8,524.5 L1477.0,528.7 L1482.7,522.0 L1489.1,518.2 L1497.0,515.6 L1500.0,515.2 L1503.3,518.2 L1505.7,512.2 L1508.2,511.8 L1511.2,517.5 L1515.3,523.2 L1518.3,518.2 L1521.0,517.9 L1527.0,522.3 L1530.0,518.7 L1533.0,519.7 L1536.0,519.0 L1539.3,514.2 L1542.0,512.2 L1545.7,511.8 L1548.0,515.2 L1552.5,514.2 L1556.2,515.2 L1560.0,516.0 L1564.5,514.9 L1569.0,512.7 L1572.0,510.0 L1573.8,510.7 L1577.2,508.9 L1581.0,513.3 L1586.2,516.3 L1589.5,511.2 L1594.5,512.2 L1598.2,515.5 L1602.0,509.7 L1605.0,507.0 L1608.0,506.2 L1611.0,507.0 L1614.7,509.2 L1618.5,511.2 L1621.5,510.4 L1624.5,510.4 L1627.8,512.7 L1631.2,511.5 L1633.5,513.7 L1636.5,516.7 L1639.5,518.2 L1642.5,518.2 L1644.7,515.2 L1646.2,512.2 L1650.0,515.2 L1654.5,515.7 L1657.5,512.2 L1660.5,507.3 L1663.5,515.2 L1665.7,514.8 L1669.5,522.0 L1672.2,525.7 L1675.5,515.2 L1678.5,510.7 L1681.5,505.8 L1684.2,505.8 L1686.7,511.8 L1689.7,513.3 L1693.5,510.7 L1696.5,512.2 L1699.5,513.3 L1702.5,511.9 L1706.2,507.0 L1709.2,504.0 L1711.5,502.9 L1713.7,502.8 L1716.7,501.4 L1719.7,502.9 L1722.7,506.2 L1725.0,510.7 L1725.7,513.0" fill="none" stroke="#000" stroke-width="2.08" stroke-linejoin="round" stroke-linecap="butt"/>
<line x1="1729.60" y1="822.00" x2="1729.60" y2="478.00" stroke="#000" stroke-width="2.78" stroke-dasharray="2.78 4.58" stroke-linecap="butt"/>
<path d="M1231.6,642.8 L1233.1,663.8 L1234.4,651.4 L1235.6,669.9 L1236.7,645.4 L1238.0,671.8 L1239.6,649.2 L1240.5,664.3 L1241.4,645.4 L1242.3,677.0 L1243.7,651.1 L1244.9,673.0 L1246.0,645.4 L1247.4,677.0 L1248.4,645.4 L1249.8,664.8 L1250.9,637.1 L1251.8,666.5 L1252.9,632.2 L1253.8,661.2 L1254.9,643.6 L1256.4,664.6 L1257.4,632.2 L1258.8,663.8 L1260.0,639.9 L1260.9,654.9 L1262.1,632.2 L1263.6,648.0 L1265.1,631.8 L1266.5,653.0 L1268.1,608.5 L1269.5,655.9 L1270.4,624.1 L1271.4,650.9 L1272.6,605.3 L1273.8,661.2 L1274.8,603.2 L1275.8,644.7 L1277.3,620.5 L1278.8,666.5 L1279.7,600.6 L1280.7,666.5 L1282.1,603.7 L1283.1,666.5 L1284.1,605.9 L1285.4,666.5 L1286.4,608.5 L1287.5,679.5 L1288.7,612.5 L1289.8,687.6 L1291.1,623.4 L1292.0,694.9 L1293.5,626.6 L1294.4,703.4 L1295.7,619.1 L1296.6,687.7 L1298.1,628.5 L1299.5,698.1 L1300.9,621.7 L1302.0,688.5 L1303.2,630.2 L1304.5,687.6 L1305.8,619.1 L1307.2,665.0 L1308.4,638.0 L1309.3,663.8 L1310.6,637.5 L1311.9,655.9 L1313.4,633.3 L1314.5,652.1 L1315.5,629.6 L1316.6,650.7 L1317.9,635.9 L1319.4,650.0 L1320.5,629.6 L1321.4,650.7 L1322.9,629.4 L1323.9,648.0 L1324.9,633.8 L1326.2,666.5 L1327.7,619.1 L1328.6,652.2 L1329.4,629.9 L1330.5,670.5 L1331.4,629.6 L1332.9,671.8 L1333.8,641.6 L1335.0,676.3 L1336.6,645.4 L1337.8,687.6 L1338.9,635.6 L1340.0,680.3 L1341.2,635.3 L1342.3,703.4 L1343.2,619.1 L1344.2,678.1 L1345.6,622.6 L1347.1,682.3 L1348.3,592.7 L1349.7,676.9 L1351.0,631.4 L1352.6,682.3 L1354.0,619.1 L1355.4,682.3 L1356.6,629.7 L1357.8,682.3 L1358.7,619.1 L1359.7,682.3 L1360.7,630.5 L1362.1,674.9 L1363.3,619.1 L1364.3,682.3 L1365.7,628.3 L1367.1,669.0 L1368.3,621.7 L1369.2,677.0 L1370.5,628.2 L1371.7,666.2 L1372.5,635.9 L1373.7,671.8 L1374.9,640.1 L1376.1,662.3 L1377.6,647.9 L1378.5,663.8 L1380.0,641.4 L1381.0,659.8 L1381.9,641.4 L1382.9,656.0 L1384.0,641.4 L1384.9,661.2 L1386.1,639.3 L1387.3,660.9 L1388.5,636.4 L1389.5,671.8 L1390.7,634.9 L1392.1,662.7 L1393.6,630.8 L1394.6,679.7 L1396.2,627.0 L1397.2,687.6 L1398.1,627.0" fill="none" stroke="#ff0000" stroke-width="2.3" stroke-linejoin="round" stroke-linecap="butt"/>
<path d="M1244.1,661.2 L1244.8,623.8 L1245.5,661.2" fill="none" stroke="#ff0000" stroke-width="2.3" stroke-linejoin="round" stroke-linecap="butt"/>
<path d="M1249.3,655.3 L1250.0,612.5 L1250.7,655.3" fill="none" stroke="#ff0000" stroke-width="2.3" stroke-linejoin="round" stroke-linecap="butt"/>
<path d="M1254.6,648.7 L1255.3,612.5 L1256.0,648.7" fill="none" stroke="#ff0000" stroke-width="2.3" stroke-linejoin="round" stroke-linecap="butt"/>
<path d="M1257.2,648.0 L1257.9,607.2 L1258.6,648.0" fill="none" stroke="#ff0000" stroke-width="2.3" stroke-linejoin="round" stroke-linecap="butt"/>
<path d="M1260.7,642.9 L1261.4,611.7 L1262.1,642.9" fill="none" stroke="#ff0000" stroke-width="2.3" stroke-linejoin="round" stroke-linecap="butt"/>
<path d="M1270.9,632.2 L1271.6,586.9 L1272.3,632.2" fill="none" stroke="#ff0000" stroke-width="2.3" stroke-linejoin="round" stroke-linecap="butt"/>
<path d="M1275.7,632.9 L1276.4,600.6 L1277.1,632.9" fill="none" stroke="#ff0000" stroke-width="2.3" stroke-linejoin="round" stroke-linecap="butt"/>
<path d="M1281.0,634.9 L1281.7,559.0 L1282.4,634.9" fill="none" stroke="#ff0000" stroke-width="2.3" stroke-linejoin="round" stroke-linecap="butt"/>
<path d="M1283.6,636.2 L1284.3,559.8 L1285.0,636.2" fill="none" stroke="#ff0000" stroke-width="2.3" stroke-linejoin="round" stroke-linecap="butt"/>
<path d="M1287.0,645.2 L1287.7,594.8 L1288.4,645.2" fill="none" stroke="#ff0000" stroke-width="2.3" stroke-linejoin="round" stroke-linecap="butt"/>
<path d="M1298.1,660.2 L1298.8,559.8 L1299.5,660.2" fill="none" stroke="#ff0000" stroke-width="2.3" stroke-linejoin="round" stroke-linecap="butt"/>
<path d="M1300.7,658.2 L1301.4,589.5 L1302.1,658.2" fill="none" stroke="#ff0000" stroke-width="2.3" stroke-linejoin="round" stroke-linecap="butt"/>
<path d="M1304.7,653.3 L1305.4,615.9 L1306.1,653.3" fill="none" stroke="#ff0000" stroke-width="2.3" stroke-linejoin="round" stroke-linecap="butt"/>
<path d="M1315.7,640.1 L1316.4,569.5 L1317.1,640.1" fill="none" stroke="#ff0000" stroke-width="2.3" stroke-linejoin="round" stroke-linecap="butt"/>
<path d="M1321.3,640.5 L1322.0,569.5 L1322.7,640.5" fill="none" stroke="#ff0000" stroke-width="2.3" stroke-linejoin="round" stroke-linecap="butt"/>
<path d="M1323.9,641.8 L1324.6,575.6 L1325.3,641.8" fill="none" stroke="#ff0000" stroke-width="2.3" stroke-linejoin="round" stroke-linecap="butt"/>
<path d="M1338.9,663.8 L1339.6,584.8 L1340.3,663.8" fill="none" stroke="#ff0000" stroke-width="2.3" stroke-linejoin="round" stroke-linecap="butt"/>
<path d="M1341.6,661.2 L1342.3,588.7 L1343.0,661.2" fill="none" stroke="#ff0000" stroke-width="2.3" stroke-linejoin="round" stroke-linecap="butt"/>
<path d="M1347.4,638.8 L1348.1,591.4 L1348.8,638.8" fill="none" stroke="#ff0000" stroke-width="2.3" stroke-linejoin="round" stroke-linecap="butt"/>
<path d="M1351.6,649.4 L1352.3,584.3 L1353.0,649.4" fill="none" stroke="#ff0000" stroke-width="2.3" stroke-linejoin="round" stroke-linecap="butt"/>
<path d="M1356.8,650.7 L1357.5,575.6 L1358.2,650.7" fill="none" stroke="#ff0000" stroke-width="2.3" stroke-linejoin="round" stroke-linecap="butt"/>
<path d="M1360.8,650.7 L1361.5,587.4 L1362.2,650.7" fill="none" stroke="#ff0000" stroke-width="2.3" stroke-linejoin="round" stroke-linecap="butt"/>
<path d="M1365.3,650.0 L1366.0,579.0 L1366.7,650.0" fill="none" stroke="#ff0000" stroke-width="2.3" stroke-linejoin="round" stroke-linecap="butt"/>
<path d="M1370.5,652.6 L1371.2,602.7 L1371.9,652.6" fill="none" stroke="#ff0000" stroke-width="2.3" stroke-linejoin="round" stroke-linecap="butt"/>
<path d="M1393.7,653.3 L1394.4,603.2 L1395.1,653.3" fill="none" stroke="#ff0000" stroke-width="2.3" stroke-linejoin="round" stroke-linecap="butt"/>
<path d="M1242.2,661.2 L1242.9,736.3 L1243.6,661.2" fill="none" stroke="#ff0000" stroke-width="2.3" stroke-linejoin="round" stroke-linecap="butt"/>
<path d="M1248.5,657.1 L1249.2,694.2 L1249.9,657.1" fill="none" stroke="#ff0000" stroke-width="2.3" stroke-linejoin="round" stroke-linecap="butt"/>
<path d="M1251.4,650.5 L1252.1,697.6 L1252.8,650.5" fill="none" stroke="#ff0000" stroke-width="2.3" stroke-linejoin="round" stroke-linecap="butt"/>
<path d="M1255.4,648.5 L1256.1,724.5 L1256.8,648.5" fill="none" stroke="#ff0000" stroke-width="2.3" stroke-linejoin="round" stroke-linecap="butt"/>
<path d="M1259.1,645.3 L1259.8,689.7 L1260.5,645.3" fill="none" stroke="#ff0000" stroke-width="2.3" stroke-linejoin="round" stroke-linecap="butt"/>
<path d="M1270.9,632.2 L1271.6,676.5 L1272.3,632.2" fill="none" stroke="#ff0000" stroke-width="2.3" stroke-linejoin="round" stroke-linecap="butt"/>
<path d="M1279.6,634.2 L1280.3,667.0 L1281.0,634.2" fill="none" stroke="#ff0000" stroke-width="2.3" stroke-linejoin="round" stroke-linecap="butt"/>
<path d="M1285.4,641.0 L1286.1,729.2 L1286.8,641.0" fill="none" stroke="#ff0000" stroke-width="2.3" stroke-linejoin="round" stroke-linecap="butt"/>
<path d="M1291.5,655.6 L1292.2,730.3 L1292.9,655.6" fill="none" stroke="#ff0000" stroke-width="2.3" stroke-linejoin="round" stroke-linecap="butt"/>
<path d="M1294.1,661.2 L1294.8,731.0 L1295.5,661.2" fill="none" stroke="#ff0000" stroke-width="2.3" stroke-linejoin="round" stroke-linecap="butt"/>
<path d="M1298.1,660.2 L1298.8,728.4 L1299.5,660.2" fill="none" stroke="#ff0000" stroke-width="2.3" stroke-linejoin="round" stroke-linecap="butt"/>
<path d="M1301.5,657.3 L1302.2,724.5 L1302.9,657.3" fill="none" stroke="#ff0000" stroke-width="2.3" stroke-linejoin="round" stroke-linecap="butt"/>
<path d="M1307.6,649.7 L1308.3,779.0 L1309.0,649.7" fill="none" stroke="#ff0000" stroke-width="2.3" stroke-linejoin="round" stroke-linecap="butt"/>
<path d="M1311.3,645.1 L1312.0,698.1 L1312.7,645.1" fill="none" stroke="#ff0000" stroke-width="2.3" stroke-linejoin="round" stroke-linecap="butt"/>
<path d="M1326.5,644.0 L1327.2,774.5 L1327.9,644.0" fill="none" stroke="#ff0000" stroke-width="2.3" stroke-linejoin="round" stroke-linecap="butt"/>
<path d="M1329.7,648.7 L1330.4,762.7 L1331.1,648.7" fill="none" stroke="#ff0000" stroke-width="2.3" stroke-linejoin="round" stroke-linecap="butt"/>
<path d="M1335.0,662.5 L1335.7,767.1 L1336.4,662.5" fill="none" stroke="#ff0000" stroke-width="2.3" stroke-linejoin="round" stroke-linecap="butt"/>
<path d="M1338.1,664.6 L1338.8,735.0 L1339.5,664.6" fill="none" stroke="#ff0000" stroke-width="2.3" stroke-linejoin="round" stroke-linecap="butt"/>
<path d="M1341.6,661.2 L1342.3,703.4 L1343.0,661.2" fill="none" stroke="#ff0000" stroke-width="2.3" stroke-linejoin="round" stroke-linecap="butt"/>
<path d="M1345.0,645.8 L1345.7,803.5 L1346.4,645.8" fill="none" stroke="#ff0000" stroke-width="2.3" stroke-linejoin="round" stroke-linecap="butt"/>
<path d="M1353.4,650.7 L1354.1,764.5 L1354.8,650.7" fill="none" stroke="#ff0000" stroke-width="2.3" stroke-linejoin="round" stroke-linecap="butt"/>
<path d="M1358.7,650.7 L1359.4,741.6 L1360.1,650.7" fill="none" stroke="#ff0000" stroke-width="2.3" stroke-linejoin="round" stroke-linecap="butt"/>
<path d="M1362.6,650.7 L1363.3,690.2 L1364.0,650.7" fill="none" stroke="#ff0000" stroke-width="2.3" stroke-linejoin="round" stroke-linecap="butt"/>
<path d="M1371.9,654.3 L1372.6,678.3 L1373.3,654.3" fill="none" stroke="#ff0000" stroke-width="2.3" stroke-linejoin="round" stroke-linecap="butt"/>
<path d="M1387.7,652.8 L1388.4,687.6 L1389.1,652.8" fill="none" stroke="#ff0000" stroke-width="2.3" stroke-linejoin="round" stroke-linecap="butt"/>
<path d="M1398.2,657.3 L1398.9,693.4 L1399.6,657.3" fill="none" stroke="#ff0000" stroke-width="2.3" stroke-linejoin="round" stroke-linecap="butt"/>
<path d="M1400.0,629.6 L1401.3,677.0 L1402.7,584.8 L1403.6,678.5 L1404.8,592.3 L1405.7,698.1 L1406.9,600.6 L1407.9,694.6 L1409.3,602.2 L1410.2,691.5 L1411.4,603.2 L1412.6,692.8 L1413.8,635.7 L1415.3,821.6 L1416.7,609.8 L1417.6,821.6 L1419.1,608.5 L1420.6,821.6 L1421.8,650.6 L1423.3,809.0 L1424.6,627.0 L1425.8,821.6 L1427.1,645.4 L1428.2,821.6 L1429.3,619.1 L1430.4,821.6 L1431.4,669.1 L1432.5,821.6 L1433.7,616.4 L1435.0,821.6 L1436.6,704.1 L1437.9,821.6 L1438.8,677.0 L1439.7,808.2 L1441.0,575.0 L1442.2,821.6 L1443.6,623.8 L1444.3,623.8 L1450.9,821.6 L1451.9,821.4 L1453.1,821.6 L1454.5,724.5 L1456.3,821.6 L1457.9,708.6 L1459.5,821.6 L1461.1,670.4 L1462.3,821.6 L1464.0,682.3 L1465.7,810.4 L1467.5,679.7 L1468.9,821.6 L1470.1,696.0 L1471.8,782.4 L1473.5,673.9 L1475.1,821.6 L1476.1,689.3 L1477.5,821.6 L1478.8,698.1 L1480.4,800.9 L1482.3,659.9 L1483.4,790.3 L1485.0,648.0 L1486.6,806.1 L1488.1,632.2 L1489.4,809.2 L1491.2,677.0 L1492.4,812.7 L1493.5,677.0 L1494.6,785.1 L1496.2,677.0 L1497.4,821.6 L1499.1,640.7 L1500.8,821.6 L1502.0,677.0 L1503.7,821.6 L1505.6,652.0 L1507.3,758.7 L1508.6,703.9 L1509.7,735.0 L1511.1,663.8 L1512.8,761.3 L1514.4,723.4 L1516.1,795.6 L1517.2,677.0 L1518.5,790.3 L1520.0,690.2 L1521.9,800.1 L1523.1,658.1 L1525.0,821.6 L1526.3,720.1 L1527.7,777.2 L1529.2,692.8 L1530.9,761.3 L1532.6,669.1 L1533.6,748.7 L1535.1,650.7 L1536.8,800.9 L1538.5,703.4 L1540.2,794.7 L1541.8,682.3 L1543.3,787.7 L1545.0,700.7 L1546.4,821.6 L1548.0,733.0 L1549.6,821.6 L1551.0,684.4 L1552.8,821.6 L1554.5,698.1 L1556.0,814.0 L1557.4,676.9 L1559.1,808.8 L1560.2,667.0 L1561.5,821.6 L1562.8,696.8 L1564.5,821.6 L1565.9,688.9 L1566.9,821.6 L1568.1,742.4 L1569.7,821.6 L1570.9,657.3 L1572.2,821.6 L1573.6,679.7 L1575.4,821.6 L1577.3,663.8 L1578.3,811.4 L1579.7,661.7 L1581.0,813.9 L1582.2,741.4 L1583.5,810.3 L1585.1,671.8 L1586.3,795.6 L1587.8,698.1 L1589.1,821.6 L1590.7,724.5 L1592.5,821.6 L1593.7,713.1 L1595.2,818.3 L1596.7,700.7 L1598.4,816.5 L1599.5,671.8 L1601.0,821.6 L1602.7,641.4 L1603.8,821.6 L1605.4,700.7 L1606.6,821.6 L1608.4,667.8 L1609.4,771.9 L1610.7,671.8 L1611.7,821.6 L1612.9,650.1 L1614.2,821.6 L1615.5,720.3 L1616.8,814.9 L1618.1,669.1 L1619.7,820.6 L1620.8,661.2 L1622.4,821.6 L1623.8,667.8 L1624.9,821.6 L1626.0,642.2 L1627.8,821.6 L1629.4,650.7 L1630.7,724.5 L1631.8,667.0 L1633.6,711.3 L1635.2,655.9 L1636.5,821.6 L1637.8,671.8 L1639.6,821.6 L1641.2,688.3 L1642.6,821.6 L1644.2,669.1 L1645.8,821.6 L1647.7,666.0 L1648.8,818.2 L1650.4,690.2 L1651.7,821.6 L1653.6,669.1 L1655.1,821.6 L1656.3,676.6 L1658.0,821.6 L1659.8,667.0 L1661.0,821.6 L1662.2,690.2 L1663.2,777.2 L1665.0,667.0 L1666.6,779.8 L1668.2,668.9 L1669.4,771.9 L1670.7,671.8 L1672.2,798.2 L1673.3,619.1 L1674.5,758.7 L1675.6,617.2 L1676.8,654.4 L1678.1,599.3 L1679.4,659.9 L1680.5,584.8 L1681.6,659.9 L1682.9,582.8 L1684.2,642.8 L1685.4,579.5 L1686.5,659.0 L1687.6,577.7 L1688.4,669.1 L1689.3,587.4 L1690.2,735.0 L1691.6,632.2 L1692.7,748.2 L1694.0,633.5 L1694.8,751.1 L1695.9,631.7 L1696.9,754.8 L1697.7,659.8 L1698.7,736.6 L1699.5,687.6 L1700.5,744.2 L1701.9,683.6 L1702.8,742.9 L1703.7,655.9 L1704.8,719.4 L1706.3,682.3 L1707.2,732.4 L1708.0,678.5 L1709.4,709.9 L1710.2,669.1 L1711.3,703.4 L1712.3,645.4 L1713.1,692.8 L1714.4,649.9 L1715.8,695.5 L1716.8,636.2 L1717.7,794.3 L1719.1,642.8 L1720.2,729.7 L1721.2,663.0 L1722.0,721.8 L1723.0,648.6 L1723.9,756.1 L1724.7,669.0 L1725.7,786.4 L1726.6,663.8 L1727.6,735.0 L1728.7,682.3" fill="none" stroke="#ff0000" stroke-width="2.3" stroke-linejoin="round" stroke-linecap="butt"/>
<line x1="1231.00" y1="477.00" x2="1231.00" y2="823.00" stroke="#000" stroke-width="2.0" stroke-linecap="butt"/>
<line x1="1230.00" y1="478.00" x2="1801.00" y2="478.00" stroke="#000" stroke-width="2.0" stroke-linecap="butt"/>
<line x1="1230.00" y1="822.00" x2="1801.00" y2="822.00" stroke="#000" stroke-width="2.0" stroke-linecap="butt"/>
<line x1="1800.00" y1="477.00" x2="1800.00" y2="823.00" stroke="#ff0000" stroke-width="2.0" stroke-linecap="butt"/>
<line x1="1269.50" y1="822.00" x2="1269.50" y2="817.00" stroke="#000" stroke-width="1.0" stroke-linecap="butt"/>
<line x1="1340.50" y1="822.00" x2="1340.50" y2="817.00" stroke="#000" stroke-width="1.0" stroke-linecap="butt"/>
<line x1="1411.50" y1="822.00" x2="1411.50" y2="817.00" stroke="#000" stroke-width="1.0" stroke-linecap="butt"/>
<line x1="1482.50" y1="822.00" x2="1482.50" y2="817.00" stroke="#000" stroke-width="1.0" stroke-linecap="butt"/>
<line x1="1554.50" y1="822.00" x2="1554.50" y2="817.00" stroke="#000" stroke-width="1.0" stroke-linecap="butt"/>
<line x1="1625.50" y1="822.00" x2="1625.50" y2="817.00" stroke="#000" stroke-width="1.0" stroke-linecap="butt"/>
<line x1="1696.50" y1="822.00" x2="1696.50" y2="817.00" stroke="#000" stroke-width="1.0" stroke-linecap="butt"/>
<line x1="1767.50" y1="822.00" x2="1767.50" y2="817.00" stroke="#000" stroke-width="1.0" stroke-linecap="butt"/>
<text transform="translate(1213.90,519.70)" font-size="20.51" fill="#000" stroke="#000" stroke-width="0.33"><tspan x="-0.80" textLength="11.40" lengthAdjust="spacingAndGlyphs">0</tspan></text>
<text transform="translate(1173.66,588.50)" font-size="20.51" fill="#000" stroke="#000" stroke-width="0.33"><tspan x="-1.14" textLength="52.09" lengthAdjust="spacingAndGlyphs">−100</tspan></text>
<text transform="translate(1173.66,657.30)" font-size="20.51" fill="#000" stroke="#000" stroke-width="0.33"><tspan x="-1.14" textLength="52.09" lengthAdjust="spacingAndGlyphs">−200</tspan></text>
<text transform="translate(1173.66,726.10)" font-size="20.51" fill="#000" stroke="#000" stroke-width="0.33"><tspan x="-1.14" textLength="52.09" lengthAdjust="spacingAndGlyphs">−300</tspan></text>
<text transform="translate(1173.66,794.90)" font-size="20.51" fill="#000" stroke="#000" stroke-width="0.33"><tspan x="-1.14" textLength="52.09" lengthAdjust="spacingAndGlyphs">−400</tspan></text>
<line x1="1800.00" y1="564.50" x2="1795.00" y2="564.50" stroke="#ff0000" stroke-width="1.0" stroke-linecap="butt"/>
<line x1="1800.00" y1="650.50" x2="1795.00" y2="650.50" stroke="#ff0000" stroke-width="1.0" stroke-linecap="butt"/>
<line x1="1800.00" y1="736.50" x2="1795.00" y2="736.50" stroke="#ff0000" stroke-width="1.0" stroke-linecap="butt"/>
<line x1="1800.00" y1="538.50" x2="1796.50" y2="538.50" stroke="#ff0000" stroke-width="1.0" stroke-linecap="butt"/>
<line x1="1800.00" y1="522.50" x2="1796.50" y2="522.50" stroke="#ff0000" stroke-width="1.0" stroke-linecap="butt"/>
<line x1="1800.00" y1="512.50" x2="1796.50" y2="512.50" stroke="#ff0000" stroke-width="1.0" stroke-linecap="butt"/>
<line x1="1800.00" y1="503.50" x2="1796.50" y2="503.50" stroke="#ff0000" stroke-width="1.0" stroke-linecap="butt"/>
<line x1="1800.00" y1="497.50" x2="1796.50" y2="497.50" stroke="#ff0000" stroke-width="1.0" stroke-linecap="butt"/>
<line x1="1800.00" y1="491.50" x2="1796.50" y2="491.50" stroke="#ff0000" stroke-width="1.0" stroke-linecap="butt"/>
<line x1="1800.00" y1="486.50" x2="1796.50" y2="486.50" stroke="#ff0000" stroke-width="1.0" stroke-linecap="butt"/>
<line x1="1800.00" y1="481.50" x2="1796.50" y2="481.50" stroke="#ff0000" stroke-width="1.0" stroke-linecap="butt"/>
<line x1="1800.00" y1="624.50" x2="1796.50" y2="624.50" stroke="#ff0000" stroke-width="1.0" stroke-linecap="butt"/>
<line x1="1800.00" y1="608.50" x2="1796.50" y2="608.50" stroke="#ff0000" stroke-width="1.0" stroke-linecap="butt"/>
<line x1="1800.00" y1="598.50" x2="1796.50" y2="598.50" stroke="#ff0000" stroke-width="1.0" stroke-linecap="butt"/>
<line x1="1800.00" y1="589.50" x2="1796.50" y2="589.50" stroke="#ff0000" stroke-width="1.0" stroke-linecap="butt"/>
<line x1="1800.00" y1="583.50" x2="1796.50" y2="583.50" stroke="#ff0000" stroke-width="1.0" stroke-linecap="butt"/>
<line x1="1800.00" y1="577.50" x2="1796.50" y2="577.50" stroke="#ff0000" stroke-width="1.0" stroke-linecap="butt"/>
<line x1="1800.00" y1="572.50" x2="1796.50" y2="572.50" stroke="#ff0000" stroke-width="1.0" stroke-linecap="butt"/>
<line x1="1800.00" y1="567.50" x2="1796.50" y2="567.50" stroke="#ff0000" stroke-width="1.0" stroke-linecap="butt"/>
<line x1="1800.00" y1="710.50" x2="1796.50" y2="710.50" stroke="#ff0000" stroke-width="1.0" stroke-linecap="butt"/>
<line x1="1800.00" y1="694.50" x2="1796.50" y2="694.50" stroke="#ff0000" stroke-width="1.0" stroke-linecap="butt"/>
<line x1="1800.00" y1="684.50" x2="1796.50" y2="684.50" stroke="#ff0000" stroke-width="1.0" stroke-linecap="butt"/>
<line x1="1800.00" y1="675.50" x2="1796.50" y2="675.50" stroke="#ff0000" stroke-width="1.0" stroke-linecap="butt"/>
<line x1="1800.00" y1="669.50" x2="1796.50" y2="669.50" stroke="#ff0000" stroke-width="1.0" stroke-linecap="butt"/>
<line x1="1800.00" y1="663.50" x2="1796.50" y2="663.50" stroke="#ff0000" stroke-width="1.0" stroke-linecap="butt"/>
<line x1="1800.00" y1="658.50" x2="1796.50" y2="658.50" stroke="#ff0000" stroke-width="1.0" stroke-linecap="butt"/>
<line x1="1800.00" y1="653.50" x2="1796.50" y2="653.50" stroke="#ff0000" stroke-width="1.0" stroke-linecap="butt"/>
<line x1="1800.00" y1="796.50" x2="1796.50" y2="796.50" stroke="#ff0000" stroke-width="1.0" stroke-linecap="butt"/>
<line x1="1800.00" y1="780.50" x2="1796.50" y2="780.50" stroke="#ff0000" stroke-width="1.0" stroke-linecap="butt"/>
<line x1="1800.00" y1="770.50" x2="1796.50" y2="770.50" stroke="#ff0000" stroke-width="1.0" stroke-linecap="butt"/>
<line x1="1800.00" y1="761.50" x2="1796.50" y2="761.50" stroke="#ff0000" stroke-width="1.0" stroke-linecap="butt"/>
<line x1="1800.00" y1="755.50" x2="1796.50" y2="755.50" stroke="#ff0000" stroke-width="1.0" stroke-linecap="butt"/>
<line x1="1800.00" y1="749.50" x2="1796.50" y2="749.50" stroke="#ff0000" stroke-width="1.0" stroke-linecap="butt"/>
<line x1="1800.00" y1="744.50" x2="1796.50" y2="744.50" stroke="#ff0000" stroke-width="1.0" stroke-linecap="butt"/>
<line x1="1800.00" y1="739.50" x2="1796.50" y2="739.50" stroke="#ff0000" stroke-width="1.0" stroke-linecap="butt"/>
<text transform="translate(1808.40,485.90)" font-size="20.51" fill="#ff0000" stroke="#ff0000" stroke-width="0.33"><tspan x="-1.63" textLength="23.77" lengthAdjust="spacingAndGlyphs">10</tspan></text>
<text transform="translate(1832.31,478.70)" font-size="14.36" fill="#ff0000" stroke="#ff0000" stroke-width="0.23"><tspan x="-0.70" textLength="7.69" lengthAdjust="spacingAndGlyphs">2</tspan></text>
<text transform="translate(1808.40,571.90)" font-size="20.51" fill="#ff0000" stroke="#ff0000" stroke-width="0.33"><tspan x="-1.63" textLength="23.77" lengthAdjust="spacingAndGlyphs">10</tspan></text>
<text transform="translate(1832.31,564.70)" font-size="14.36" fill="#ff0000" stroke="#ff0000" stroke-width="0.23"><tspan x="-1.04" textLength="7.62" lengthAdjust="spacingAndGlyphs">1</tspan></text>
<text transform="translate(1808.40,657.90)" font-size="20.51" fill="#ff0000" stroke="#ff0000" stroke-width="0.33"><tspan x="-1.63" textLength="23.77" lengthAdjust="spacingAndGlyphs">10</tspan></text>
<text transform="translate(1832.31,650.70)" font-size="14.36" fill="#ff0000" stroke="#ff0000" stroke-width="0.23"><tspan x="-0.56" textLength="7.98" lengthAdjust="spacingAndGlyphs">0</tspan></text>
<text transform="translate(1808.40,743.90)" font-size="20.51" fill="#ff0000" stroke="#ff0000" stroke-width="0.33"><tspan x="-1.63" textLength="23.77" lengthAdjust="spacingAndGlyphs">10</tspan></text>
<text transform="translate(1832.31,736.70)" font-size="14.36" fill="#ff0000" stroke="#ff0000" stroke-width="0.23"><tspan x="-0.82" textLength="19.00" lengthAdjust="spacingAndGlyphs">−1</tspan></text>
<text transform="translate(1808.40,829.90)" font-size="20.51" fill="#ff0000" stroke="#ff0000" stroke-width="0.33"><tspan x="-1.63" textLength="23.77" lengthAdjust="spacingAndGlyphs">10</tspan></text>
<text transform="translate(1832.31,822.70)" font-size="14.36" fill="#ff0000" stroke="#ff0000" stroke-width="0.23"><tspan x="-0.82" textLength="18.91" lengthAdjust="spacingAndGlyphs">−2</tspan></text>
<text transform="translate(1132.00,670.70) rotate(-90)" font-size="25.39" fill="#000" stroke="#000" stroke-width="0.41"><tspan x="-2.15" textLength="39.24" lengthAdjust="spacingAndGlyphs">Dst</tspan></text>
<text transform="translate(1159.10,679.80) rotate(-90)" font-size="25.39" fill="#000" stroke="#000" stroke-width="0.41"><tspan x="-1.24" textLength="6.68" lengthAdjust="spacingAndGlyphs">(</tspan> <tspan x="15.24" textLength="29.75" lengthAdjust="spacingAndGlyphs">nT</tspan> <tspan x="53.66" textLength="6.68" lengthAdjust="spacingAndGlyphs">)</tspan></text>
<text transform="translate(1875.00,723.60) rotate(-90)" font-size="25.39" fill="#ff0000" stroke="#ff0000" stroke-width="0.41"><tspan x="-1.06" textLength="37.58" lengthAdjust="spacingAndGlyphs">SW</tspan> <tspan x="45.08" textLength="101.64" lengthAdjust="spacingAndGlyphs">Pressure</tspan></text>
<text transform="translate(1906.10,690.00) rotate(-90)" font-size="25.39" fill="#ff0000" stroke="#ff0000" stroke-width="0.41"><tspan x="-1.89" textLength="10.17" lengthAdjust="spacingAndGlyphs">(</tspan></text>
<text transform="translate(1906.10,674.50) rotate(-90)" font-size="25.39" fill="#ff0000" stroke="#ff0000" stroke-width="0.41"><tspan x="-1.68" textLength="45.08" lengthAdjust="spacingAndGlyphs">nPa</tspan></text>
<text transform="translate(1906.10,620.50) rotate(-90)" font-size="25.39" fill="#ff0000" stroke="#ff0000" stroke-width="0.41"><tspan x="-0.17" textLength="9.80" lengthAdjust="spacingAndGlyphs">)</tspan></text>
<line x1="1231.00" y1="844.00" x2="1231.00" y2="1018.00" stroke="#000" stroke-width="2.0" stroke-linecap="butt"/>
<line x1="1230.00" y1="845.00" x2="1801.00" y2="845.00" stroke="#000" stroke-width="2.0" stroke-linecap="butt"/>
<line x1="1230.00" y1="1017.00" x2="1801.00" y2="1017.00" stroke="#000" stroke-width="2.0" stroke-linecap="butt"/>
<line x1="1800.00" y1="844.00" x2="1800.00" y2="1018.00" stroke="#000" stroke-width="2.0" stroke-linecap="butt"/>
<line x1="1269.50" y1="1017.00" x2="1269.50" y2="1012.00" stroke="#000" stroke-width="1.0" stroke-linecap="butt"/>
<line x1="1340.50" y1="1017.00" x2="1340.50" y2="1012.00" stroke="#000" stroke-width="1.0" stroke-linecap="butt"/>
<line x1="1411.50" y1="1017.00" x2="1411.50" y2="1012.00" stroke="#000" stroke-width="1.0" stroke-linecap="butt"/>
<line x1="1482.50" y1="1017.00" x2="1482.50" y2="1012.00" stroke="#000" stroke-width="1.0" stroke-linecap="butt"/>
<line x1="1554.50" y1="1017.00" x2="1554.50" y2="1012.00" stroke="#000" stroke-width="1.0" stroke-linecap="butt"/>
<line x1="1625.50" y1="1017.00" x2="1625.50" y2="1012.00" stroke="#000" stroke-width="1.0" stroke-linecap="butt"/>
<line x1="1696.50" y1="1017.00" x2="1696.50" y2="1012.00" stroke="#000" stroke-width="1.0" stroke-linecap="butt"/>
<line x1="1767.50" y1="1017.00" x2="1767.50" y2="1012.00" stroke="#000" stroke-width="1.0" stroke-linecap="butt"/>
<line x1="1231.00" y1="888.50" x2="1236.00" y2="888.50" stroke="#000" stroke-width="1.0" stroke-linecap="butt"/>
<line x1="1231.00" y1="931.50" x2="1236.00" y2="931.50" stroke="#000" stroke-width="1.0" stroke-linecap="butt"/>
<line x1="1231.00" y1="974.50" x2="1236.00" y2="974.50" stroke="#000" stroke-width="1.0" stroke-linecap="butt"/>
<line x1="1800.00" y1="888.50" x2="1795.00" y2="888.50" stroke="#000" stroke-width="1.0" stroke-linecap="butt"/>
<line x1="1800.00" y1="931.50" x2="1795.00" y2="931.50" stroke="#000" stroke-width="1.0" stroke-linecap="butt"/>
<line x1="1800.00" y1="974.50" x2="1795.00" y2="974.50" stroke="#000" stroke-width="1.0" stroke-linecap="butt"/>
<line x1="1231.00" y1="875.50" x2="1234.50" y2="875.50" stroke="#000" stroke-width="1.0" stroke-linecap="butt"/>
<line x1="1231.00" y1="867.50" x2="1234.50" y2="867.50" stroke="#000" stroke-width="1.0" stroke-linecap="butt"/>
<line x1="1231.00" y1="862.50" x2="1234.50" y2="862.50" stroke="#000" stroke-width="1.0" stroke-linecap="butt"/>
<line x1="1231.00" y1="857.50" x2="1234.50" y2="857.50" stroke="#000" stroke-width="1.0" stroke-linecap="butt"/>
<line x1="1231.00" y1="854.50" x2="1234.50" y2="854.50" stroke="#000" stroke-width="1.0" stroke-linecap="butt"/>
<line x1="1231.00" y1="851.50" x2="1234.50" y2="851.50" stroke="#000" stroke-width="1.0" stroke-linecap="butt"/>
<line x1="1231.00" y1="849.50" x2="1234.50" y2="849.50" stroke="#000" stroke-width="1.0" stroke-linecap="butt"/>
<line x1="1231.00" y1="846.50" x2="1234.50" y2="846.50" stroke="#000" stroke-width="1.0" stroke-linecap="butt"/>
<line x1="1231.00" y1="918.50" x2="1234.50" y2="918.50" stroke="#000" stroke-width="1.0" stroke-linecap="butt"/>
<line x1="1231.00" y1="910.50" x2="1234.50" y2="910.50" stroke="#000" stroke-width="1.0" stroke-linecap="butt"/>
<line x1="1231.00" y1="905.50" x2="1234.50" y2="905.50" stroke="#000" stroke-width="1.0" stroke-linecap="butt"/>
<line x1="1231.00" y1="900.50" x2="1234.50" y2="900.50" stroke="#000" stroke-width="1.0" stroke-linecap="butt"/>
<line x1="1231.00" y1="897.50" x2="1234.50" y2="897.50" stroke="#000" stroke-width="1.0" stroke-linecap="butt"/>
<line x1="1231.00" y1="894.50" x2="1234.50" y2="894.50" stroke="#000" stroke-width="1.0" stroke-linecap="butt"/>
<line x1="1231.00" y1="892.50" x2="1234.50" y2="892.50" stroke="#000" stroke-width="1.0" stroke-linecap="butt"/>
<line x1="1231.00" y1="889.50" x2="1234.50" y2="889.50" stroke="#000" stroke-width="1.0" stroke-linecap="butt"/>
<line x1="1231.00" y1="961.50" x2="1234.50" y2="961.50" stroke="#000" stroke-width="1.0" stroke-linecap="butt"/>
<line x1="1231.00" y1="953.50" x2="1234.50" y2="953.50" stroke="#000" stroke-width="1.0" stroke-linecap="butt"/>
<line x1="1231.00" y1="948.50" x2="1234.50" y2="948.50" stroke="#000" stroke-width="1.0" stroke-linecap="butt"/>
<line x1="1231.00" y1="943.50" x2="1234.50" y2="943.50" stroke="#000" stroke-width="1.0" stroke-linecap="butt"/>
<line x1="1231.00" y1="940.50" x2="1234.50" y2="940.50" stroke="#000" stroke-width="1.0" stroke-linecap="butt"/>
<line x1="1231.00" y1="937.50" x2="1234.50" y2="937.50" stroke="#000" stroke-width="1.0" stroke-linecap="butt"/>
<line x1="1231.00" y1="935.50" x2="1234.50" y2="935.50" stroke="#000" stroke-width="1.0" stroke-linecap="butt"/>
<line x1="1231.00" y1="932.50" x2="1234.50" y2="932.50" stroke="#000" stroke-width="1.0" stroke-linecap="butt"/>
<line x1="1231.00" y1="1004.50" x2="1234.50" y2="1004.50" stroke="#000" stroke-width="1.0" stroke-linecap="butt"/>
<line x1="1231.00" y1="996.50" x2="1234.50" y2="996.50" stroke="#000" stroke-width="1.0" stroke-linecap="butt"/>
<line x1="1231.00" y1="991.50" x2="1234.50" y2="991.50" stroke="#000" stroke-width="1.0" stroke-linecap="butt"/>
<line x1="1231.00" y1="986.50" x2="1234.50" y2="986.50" stroke="#000" stroke-width="1.0" stroke-linecap="butt"/>
<line x1="1231.00" y1="983.50" x2="1234.50" y2="983.50" stroke="#000" stroke-width="1.0" stroke-linecap="butt"/>
<line x1="1231.00" y1="980.50" x2="1234.50" y2="980.50" stroke="#000" stroke-width="1.0" stroke-linecap="butt"/>
<line x1="1231.00" y1="978.50" x2="1234.50" y2="978.50" stroke="#000" stroke-width="1.0" stroke-linecap="butt"/>
<line x1="1231.00" y1="975.50" x2="1234.50" y2="975.50" stroke="#000" stroke-width="1.0" stroke-linecap="butt"/>
<line x1="1800.00" y1="875.50" x2="1796.50" y2="875.50" stroke="#000" stroke-width="1.0" stroke-linecap="butt"/>
<line x1="1800.00" y1="867.50" x2="1796.50" y2="867.50" stroke="#000" stroke-width="1.0" stroke-linecap="butt"/>
<line x1="1800.00" y1="862.50" x2="1796.50" y2="862.50" stroke="#000" stroke-width="1.0" stroke-linecap="butt"/>
<line x1="1800.00" y1="857.50" x2="1796.50" y2="857.50" stroke="#000" stroke-width="1.0" stroke-linecap="butt"/>
<line x1="1800.00" y1="854.50" x2="1796.50" y2="854.50" stroke="#000" stroke-width="1.0" stroke-linecap="butt"/>
<line x1="1800.00" y1="851.50" x2="1796.50" y2="851.50" stroke="#000" stroke-width="1.0" stroke-linecap="butt"/>
<line x1="1800.00" y1="849.50" x2="1796.50" y2="849.50" stroke="#000" stroke-width="1.0" stroke-linecap="butt"/>
<line x1="1800.00" y1="846.50" x2="1796.50" y2="846.50" stroke="#000" stroke-width="1.0" stroke-linecap="butt"/>
<line x1="1800.00" y1="918.50" x2="1796.50" y2="918.50" stroke="#000" stroke-width="1.0" stroke-linecap="butt"/>
<line x1="1800.00" y1="910.50" x2="1796.50" y2="910.50" stroke="#000" stroke-width="1.0" stroke-linecap="butt"/>
<line x1="1800.00" y1="905.50" x2="1796.50" y2="905.50" stroke="#000" stroke-width="1.0" stroke-linecap="butt"/>
<line x1="1800.00" y1="900.50" x2="1796.50" y2="900.50" stroke="#000" stroke-width="1.0" stroke-linecap="butt"/>
<line x1="1800.00" y1="897.50" x2="1796.50" y2="897.50" stroke="#000" stroke-width="1.0" stroke-linecap="butt"/>
<line x1="1800.00" y1="894.50" x2="1796.50" y2="894.50" stroke="#000" stroke-width="1.0" stroke-linecap="butt"/>
<line x1="1800.00" y1="892.50" x2="1796.50" y2="892.50" stroke="#000" stroke-width="1.0" stroke-linecap="butt"/>
<line x1="1800.00" y1="889.50" x2="1796.50" y2="889.50" stroke="#000" stroke-width="1.0" stroke-linecap="butt"/>
<line x1="1800.00" y1="961.50" x2="1796.50" y2="961.50" stroke="#000" stroke-width="1.0" stroke-linecap="butt"/>
<line x1="1800.00" y1="953.50" x2="1796.50" y2="953.50" stroke="#000" stroke-width="1.0" stroke-linecap="butt"/>
<line x1="1800.00" y1="948.50" x2="1796.50" y2="948.50" stroke="#000" stroke-width="1.0" stroke-linecap="butt"/>
<line x1="1800.00" y1="943.50" x2="1796.50" y2="943.50" stroke="#000" stroke-width="1.0" stroke-linecap="butt"/>
<line x1="1800.00" y1="940.50" x2="1796.50" y2="940.50" stroke="#000" stroke-width="1.0" stroke-linecap="butt"/>
<line x1="1800.00" y1="937.50" x2="1796.50" y2="937.50" stroke="#000" stroke-width="1.0" stroke-linecap="butt"/>
<line x1="1800.00" y1="935.50" x2="1796.50" y2="935.50" stroke="#000" stroke-width="1.0" stroke-linecap="butt"/>
<line x1="1800.00" y1="932.50" x2="1796.50" y2="932.50" stroke="#000" stroke-width="1.0" stroke-linecap="butt"/>
<line x1="1800.00" y1="1004.50" x2="1796.50" y2="1004.50" stroke="#000" stroke-width="1.0" stroke-linecap="butt"/>
<line x1="1800.00" y1="996.50" x2="1796.50" y2="996.50" stroke="#000" stroke-width="1.0" stroke-linecap="butt"/>
<line x1="1800.00" y1="991.50" x2="1796.50" y2="991.50" stroke="#000" stroke-width="1.0" stroke-linecap="butt"/>
<line x1="1800.00" y1="986.50" x2="1796.50" y2="986.50" stroke="#000" stroke-width="1.0" stroke-linecap="butt"/>
<line x1="1800.00" y1="983.50" x2="1796.50" y2="983.50" stroke="#000" stroke-width="1.0" stroke-linecap="butt"/>
<line x1="1800.00" y1="980.50" x2="1796.50" y2="980.50" stroke="#000" stroke-width="1.0" stroke-linecap="butt"/>
<line x1="1800.00" y1="978.50" x2="1796.50" y2="978.50" stroke="#000" stroke-width="1.0" stroke-linecap="butt"/>
<line x1="1800.00" y1="975.50" x2="1796.50" y2="975.50" stroke="#000" stroke-width="1.0" stroke-linecap="butt"/>
<text transform="translate(1194.36,852.90)" font-size="20.51" fill="#000" stroke="#000" stroke-width="0.33"><tspan x="-1.63" textLength="23.77" lengthAdjust="spacingAndGlyphs">10</tspan></text>
<text transform="translate(1218.27,845.70)" font-size="14.36" fill="#000" stroke="#000" stroke-width="0.23"><tspan x="-0.52" textLength="7.66" lengthAdjust="spacingAndGlyphs">3</tspan></text>
<text transform="translate(1194.59,895.90)" font-size="20.51" fill="#000" stroke="#000" stroke-width="0.33"><tspan x="-1.63" textLength="23.77" lengthAdjust="spacingAndGlyphs">10</tspan></text>
<text transform="translate(1218.50,888.70)" font-size="14.36" fill="#000" stroke="#000" stroke-width="0.23"><tspan x="-0.70" textLength="7.69" lengthAdjust="spacingAndGlyphs">2</tspan></text>
<text transform="translate(1194.98,938.90)" font-size="20.51" fill="#000" stroke="#000" stroke-width="0.33"><tspan x="-1.63" textLength="23.77" lengthAdjust="spacingAndGlyphs">10</tspan></text>
<text transform="translate(1218.89,931.70)" font-size="14.36" fill="#000" stroke="#000" stroke-width="0.23"><tspan x="-1.04" textLength="7.62" lengthAdjust="spacingAndGlyphs">1</tspan></text>
<text transform="translate(1194.03,981.90)" font-size="20.51" fill="#000" stroke="#000" stroke-width="0.33"><tspan x="-1.63" textLength="23.77" lengthAdjust="spacingAndGlyphs">10</tspan></text>
<text transform="translate(1217.94,974.70)" font-size="14.36" fill="#000" stroke="#000" stroke-width="0.23"><tspan x="-0.56" textLength="7.98" lengthAdjust="spacingAndGlyphs">0</tspan></text>
<text transform="translate(1183.53,1024.90)" font-size="20.51" fill="#000" stroke="#000" stroke-width="0.33"><tspan x="-1.63" textLength="23.77" lengthAdjust="spacingAndGlyphs">10</tspan></text>
<text transform="translate(1207.44,1017.70)" font-size="14.36" fill="#000" stroke="#000" stroke-width="0.23"><tspan x="-0.82" textLength="19.00" lengthAdjust="spacingAndGlyphs">−1</tspan></text>
<line x1="1231.00" y1="931.00" x2="1800.00" y2="931.00" stroke="#000" stroke-width="2.08" stroke-dasharray="2.08 3.44" stroke-linecap="butt"/>
<line x1="1729.60" y1="1017.00" x2="1729.60" y2="845.00" stroke="#000" stroke-width="2.78" stroke-dasharray="2.78 4.58" stroke-linecap="butt"/>
<text transform="translate(1133.30,1056.80) rotate(-90)" font-size="25.39" fill="#000" stroke="#000" stroke-width="0.41"><tspan x="-1.43" textLength="49.15" lengthAdjust="spacingAndGlyphs">&gt;10</tspan> <tspan x="56.13" textLength="51.59" lengthAdjust="spacingAndGlyphs">MeV</tspan> <tspan x="115.67" textLength="76.95" lengthAdjust="spacingAndGlyphs">Proton</tspan> <tspan x="200.83" textLength="49.25" lengthAdjust="spacingAndGlyphs">Flux</tspan></text>
<text transform="translate(1165.80,1016.40) rotate(-90)" font-size="25.39" fill="#000" stroke="#000" stroke-width="0.41"><tspan x="-1.29" textLength="6.91" lengthAdjust="spacingAndGlyphs">(</tspan></text>
<text transform="translate(1165.80,1000.20) rotate(-90)" font-size="25.39" fill="#000" stroke="#000" stroke-width="0.41"><tspan x="-1.16" textLength="36.25" lengthAdjust="spacingAndGlyphs">cm</tspan></text>
<text transform="translate(1155.80,964.00) rotate(-90)" font-size="17.78" fill="#000" stroke="#000" stroke-width="0.28"><tspan x="-0.82" textLength="9.03" lengthAdjust="spacingAndGlyphs">2</tspan></text>
<text transform="translate(1165.80,953.10) rotate(-90)" font-size="25.39" fill="#000" stroke="#000" stroke-width="0.41"><tspan x="-0.70" textLength="12.50" lengthAdjust="spacingAndGlyphs">s</tspan></text>
<text transform="translate(1155.80,938.10) rotate(-90)" font-size="17.78" fill="#000" stroke="#000" stroke-width="0.28"><tspan x="-1.05" textLength="24.18" lengthAdjust="spacingAndGlyphs">−1</tspan></text>
<text transform="translate(1165.80,907.10) rotate(-90)" font-size="25.39" fill="#000" stroke="#000" stroke-width="0.41"><tspan x="-0.73" textLength="21.87" lengthAdjust="spacingAndGlyphs">sr</tspan></text>
<text transform="translate(1155.80,883.30) rotate(-90)" font-size="17.78" fill="#000" stroke="#000" stroke-width="0.28"><tspan x="-1.05" textLength="24.18" lengthAdjust="spacingAndGlyphs">−1</tspan></text>
<text transform="translate(1165.80,852.20) rotate(-90)" font-size="25.39" fill="#000" stroke="#000" stroke-width="0.41"><tspan x="-0.12" textLength="6.91" lengthAdjust="spacingAndGlyphs">)</tspan></text>
<text transform="translate(1257.90,1036.90)" font-size="20.51" fill="#000" stroke="#000" stroke-width="0.33"><tspan x="-0.83" textLength="23.70" lengthAdjust="spacingAndGlyphs">07</tspan></text>
<text transform="translate(1328.86,1036.90)" font-size="20.51" fill="#000" stroke="#000" stroke-width="0.33"><tspan x="-0.84" textLength="23.90" lengthAdjust="spacingAndGlyphs">08</tspan></text>
<text transform="translate(1400.01,1036.90)" font-size="20.51" fill="#000" stroke="#000" stroke-width="0.33"><tspan x="-0.84" textLength="23.95" lengthAdjust="spacingAndGlyphs">09</tspan></text>
<text transform="translate(1471.52,1036.90)" font-size="20.51" fill="#000" stroke="#000" stroke-width="0.33"><tspan x="-1.63" textLength="23.77" lengthAdjust="spacingAndGlyphs">10</tspan></text>
<text transform="translate(1542.90,1036.90)" font-size="20.51" fill="#000" stroke="#000" stroke-width="0.33"><tspan x="-1.61" textLength="23.44" lengthAdjust="spacingAndGlyphs">11</tspan></text>
<text transform="translate(1614.10,1036.90)" font-size="20.51" fill="#000" stroke="#000" stroke-width="0.33"><tspan x="-1.60" textLength="23.30" lengthAdjust="spacingAndGlyphs">12</tspan></text>
<text transform="translate(1685.03,1036.90)" font-size="20.51" fill="#000" stroke="#000" stroke-width="0.33"><tspan x="-1.62" textLength="23.59" lengthAdjust="spacingAndGlyphs">13</tspan></text>
<text transform="translate(1755.92,1036.90)" font-size="20.51" fill="#000" stroke="#000" stroke-width="0.33"><tspan x="-1.63" textLength="23.76" lengthAdjust="spacingAndGlyphs">14</tspan></text>
<text transform="translate(1445.40,1065.50)" font-size="25.39" fill="#000" stroke="#000" stroke-width="0.41"><tspan x="-2.24" textLength="138.17" lengthAdjust="spacingAndGlyphs">March/April</tspan></text>
<text transform="translate(1457.10,1093.40)" font-size="25.39" fill="#000" stroke="#000" stroke-width="0.41"><tspan x="-1.37" textLength="60.76" lengthAdjust="spacingAndGlyphs">2025</tspan> <tspan x="68.66" textLength="50.81" lengthAdjust="spacingAndGlyphs">(UT)</tspan></text>
<text transform="translate(551.00,40.60)" font-size="25.39" fill="#000" stroke="#000" stroke-width="0.41"><tspan x="-1.98" textLength="110.21" lengthAdjust="spacingAndGlyphs">BAS-RBM</tspan> <tspan x="116.37" textLength="129.94" lengthAdjust="spacingAndGlyphs">Relativistic</tspan> <tspan x="254.91" textLength="98.26" lengthAdjust="spacingAndGlyphs">Electron</tspan> <tspan x="361.34" textLength="109.30" lengthAdjust="spacingAndGlyphs">Forecast,</tspan> <tspan x="478.80" textLength="76.12" lengthAdjust="spacingAndGlyphs">issued</tspan> <tspan x="563.30" textLength="23.58" lengthAdjust="spacingAndGlyphs">at</tspan> <tspan x="595.29" textLength="68.25" lengthAdjust="spacingAndGlyphs">23:03</tspan> <tspan x="672.11" textLength="39.64" lengthAdjust="spacingAndGlyphs">UT,</tspan> <tspan x="720.19" textLength="29.21" lengthAdjust="spacingAndGlyphs">13</tspan> <tspan x="758.04" textLength="72.82" lengthAdjust="spacingAndGlyphs">March</tspan> <tspan x="839.25" textLength="60.55" lengthAdjust="spacingAndGlyphs">2026</tspan></text>
<text transform="translate(275.00,92.70)" font-size="25.39" fill="#000" stroke="#000" stroke-width="0.41"><tspan x="-1.42" textLength="56.82" lengthAdjust="spacingAndGlyphs">&gt;2.0</tspan> <tspan x="63.83" textLength="51.63" lengthAdjust="spacingAndGlyphs">MeV</tspan> <tspan x="123.36" textLength="98.22" lengthAdjust="spacingAndGlyphs">Electron</tspan> <tspan x="229.76" textLength="49.29" lengthAdjust="spacingAndGlyphs">Flux</tspan> <tspan x="287.44" textLength="23.57" lengthAdjust="spacingAndGlyphs">at</tspan> <tspan x="319.50" textLength="29.66" lengthAdjust="spacingAndGlyphs">88</tspan></text>
<text transform="translate(630.40,89.10)" font-size="19.04" fill="#000" stroke="#000" stroke-width="0.30"><tspan x="-1.19" textLength="7.99" lengthAdjust="spacingAndGlyphs">°</tspan></text>
<text transform="translate(651.80,92.70)" font-size="25.39" fill="#000" stroke="#000" stroke-width="0.41"><tspan x="-1.81" textLength="59.23" lengthAdjust="spacingAndGlyphs">pitch</tspan> <tspan x="65.58" textLength="66.34" lengthAdjust="spacingAndGlyphs">angle</tspan> <tspan x="140.45" textLength="6.77" lengthAdjust="spacingAndGlyphs">(</tspan></text>
<text transform="translate(809.80,92.70)" font-size="25.39" fill="#000" stroke="#000" stroke-width="0.41"><tspan x="-1.18" textLength="36.90" lengthAdjust="spacingAndGlyphs">cm</tspan></text>
<text transform="translate(846.80,83.20)" font-size="17.78" fill="#000" stroke="#000" stroke-width="0.28"><tspan x="-0.99" textLength="22.90" lengthAdjust="spacingAndGlyphs">−2</tspan></text>
<text transform="translate(875.70,92.70)" font-size="25.39" fill="#000" stroke="#000" stroke-width="0.41"><tspan x="-0.71" textLength="12.73" lengthAdjust="spacingAndGlyphs">s</tspan></text>
<text transform="translate(889.00,83.20)" font-size="17.78" fill="#000" stroke="#000" stroke-width="0.28"><tspan x="-1.03" textLength="23.74" lengthAdjust="spacingAndGlyphs">−1</tspan></text>
<text transform="translate(917.70,92.70)" font-size="25.39" fill="#000" stroke="#000" stroke-width="0.41"><tspan x="-0.74" textLength="22.08" lengthAdjust="spacingAndGlyphs">sr</tspan></text>
<text transform="translate(940.80,83.20)" font-size="17.78" fill="#000" stroke="#000" stroke-width="0.28"><tspan x="-1.03" textLength="23.74" lengthAdjust="spacingAndGlyphs">−1</tspan></text>
<text transform="translate(975.00,92.70)" font-size="25.39" fill="#000" stroke="#000" stroke-width="0.41"><tspan x="-0.12" textLength="7.03" lengthAdjust="spacingAndGlyphs">)</tspan></text>
</svg>
</body></html>
